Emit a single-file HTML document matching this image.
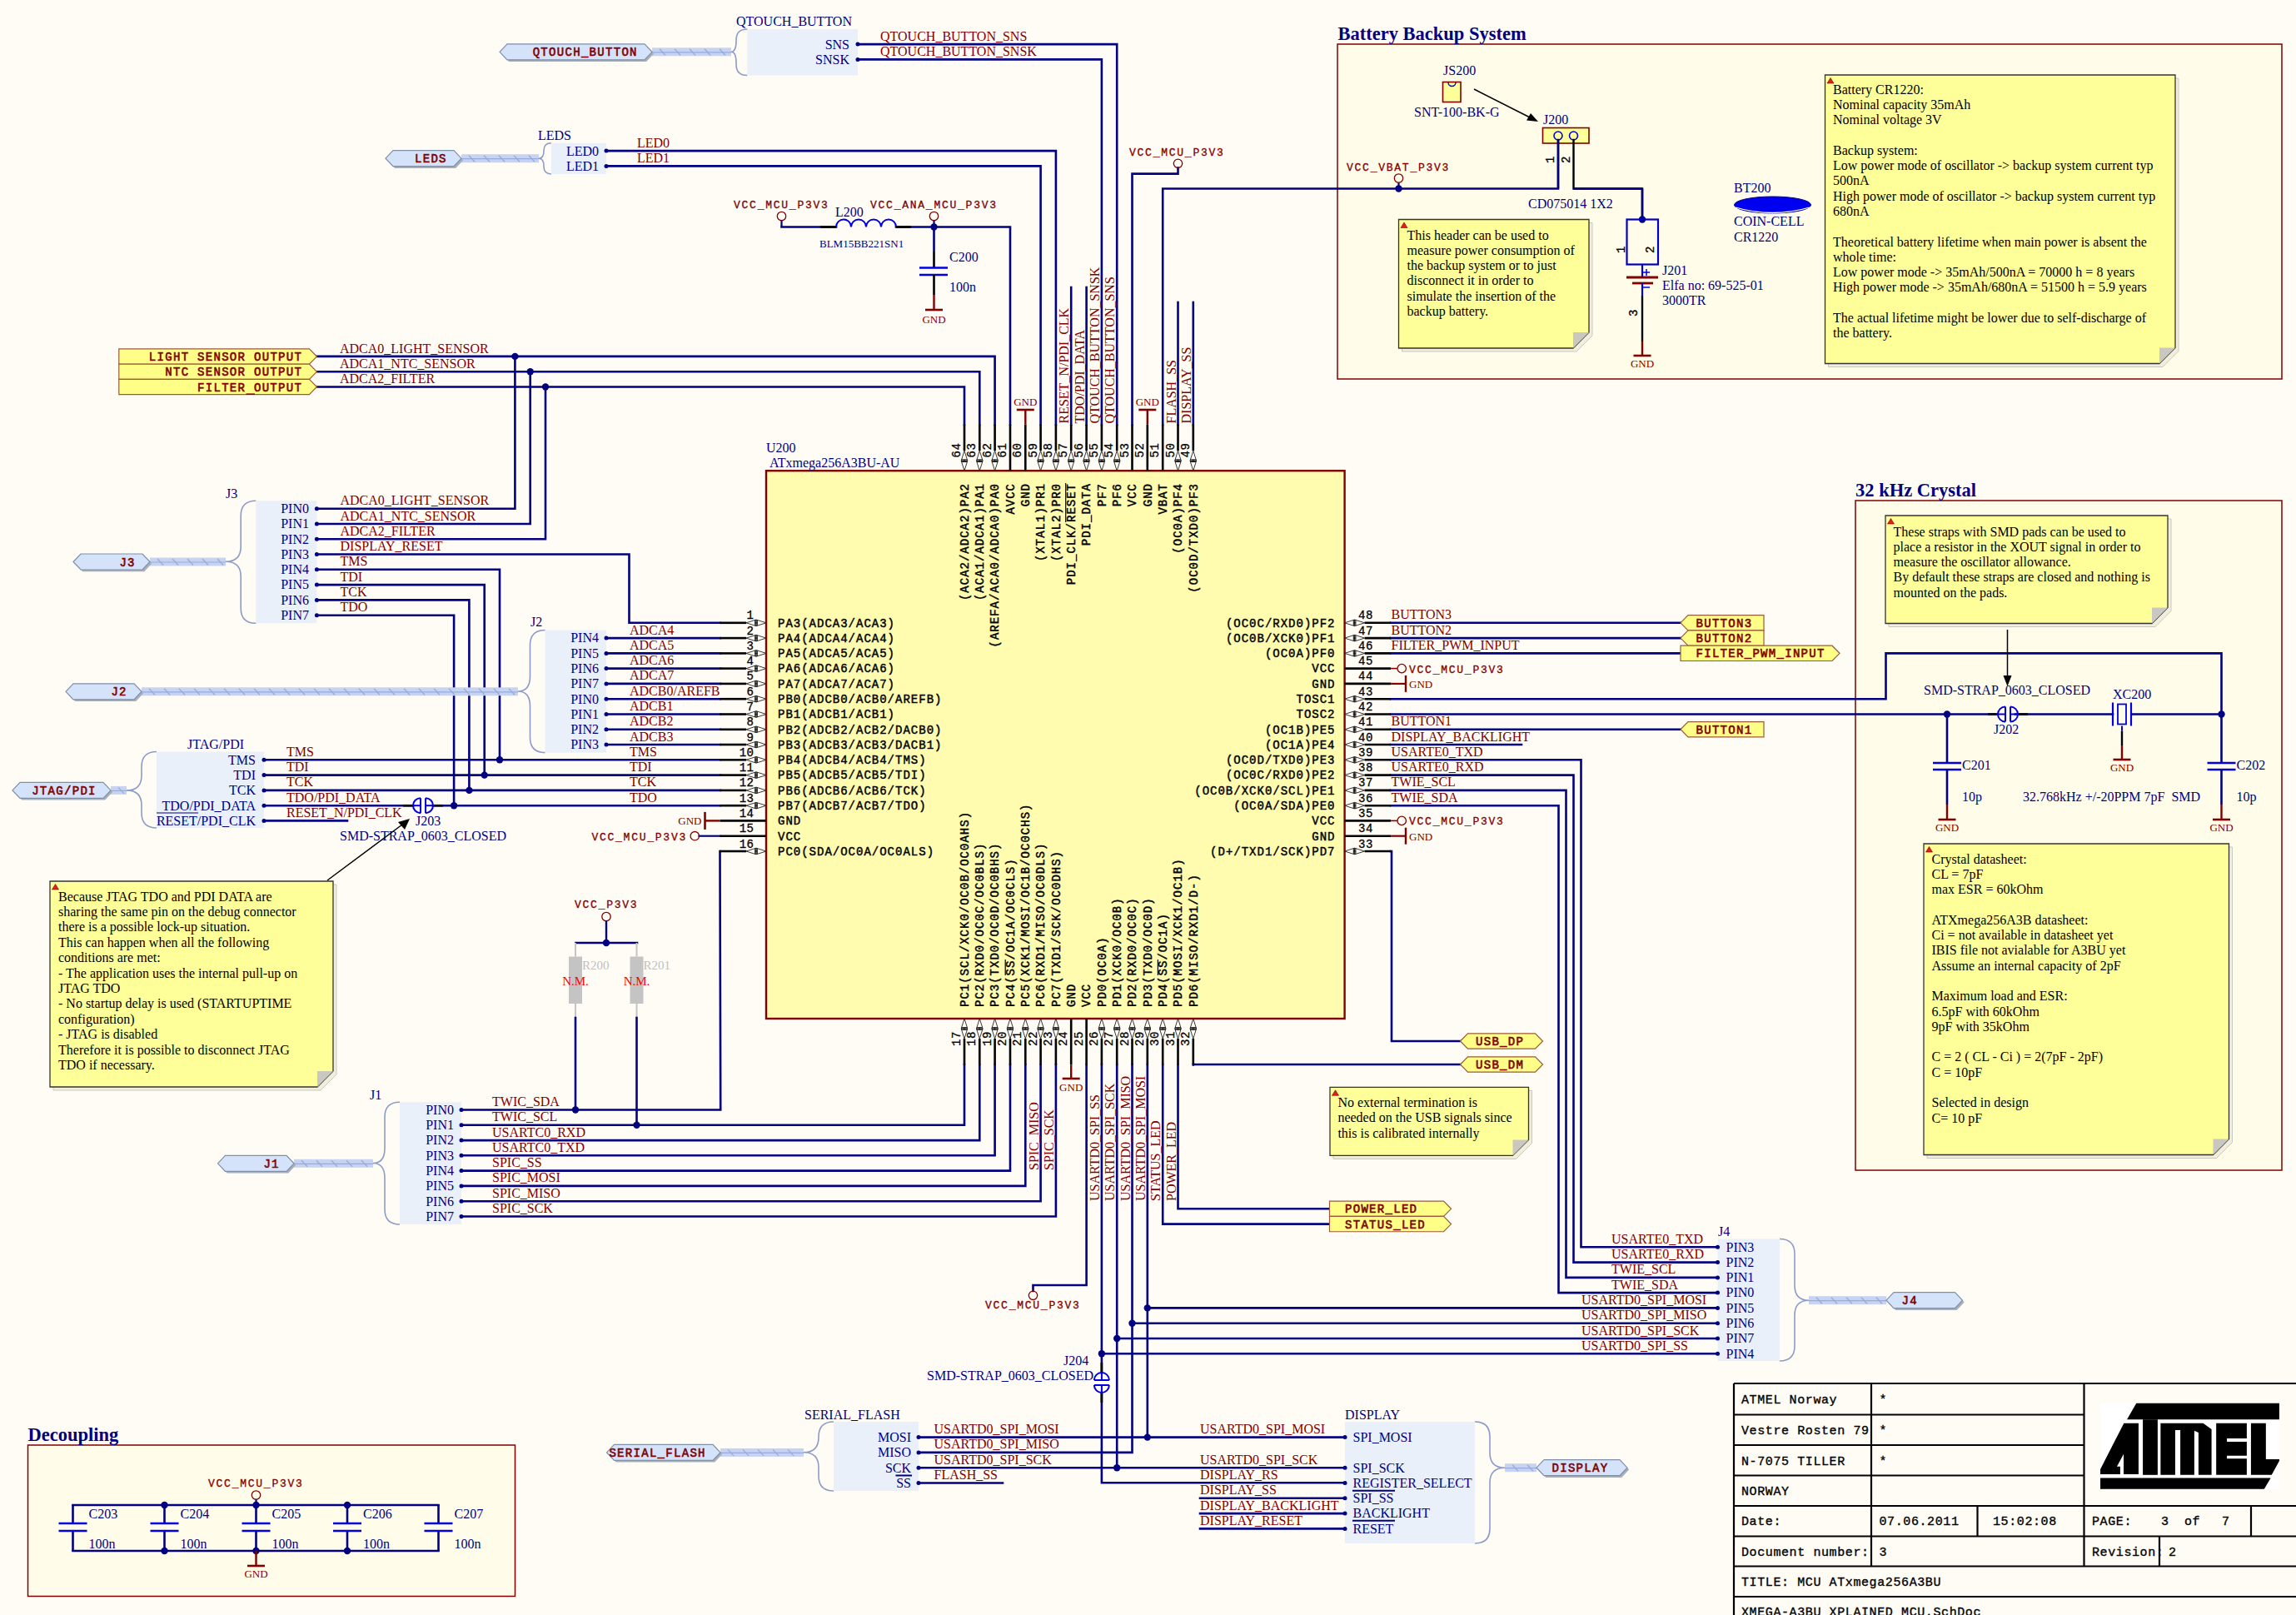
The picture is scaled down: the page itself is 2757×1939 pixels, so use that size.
<!DOCTYPE html><html><head><meta charset="utf-8"><style>
html,body{margin:0;padding:0;background:#FFFCF6;}
svg{display:block;}
text{font-family:"Liberation Serif",serif;}
.nl{font-size:16px;fill:#800000;}
.des{font-size:16px;fill:#000080;}
.dess{font-size:13px;fill:#000080;}
.pn{font-family:"Liberation Mono",monospace;font-size:14px;letter-spacing:1.0px;fill:#000;stroke:#000;stroke-width:0.45px;}
.num{font-family:"Liberation Mono",monospace;font-size:14px;letter-spacing:0.5px;fill:#000;stroke:#000;stroke-width:0.3px;}
.pwr{font-family:"Liberation Mono",monospace;font-size:13px;letter-spacing:1.75px;fill:#800000;stroke:#800000;stroke-width:0.3px;}
.gnd{font-size:13px;fill:#800000;}
.port{font-family:"Liberation Mono",monospace;font-size:14px;letter-spacing:1.3px;fill:#800000;stroke:#800000;stroke-width:0.6px;}
.note{font-size:16px;fill:#000;}
.title{font-size:22.5px;font-weight:bold;fill:#000080;}
.tb{font-family:"Liberation Mono",monospace;font-size:15px;letter-spacing:0.6px;fill:#000;stroke:#000;stroke-width:0.35px;}
.gray{font-size:15px;fill:#C0C0C0;}
.red{font-size:15px;fill:#FF0000;}
</style></head><body><svg width="2757" height="1939" viewBox="0 0 2757 1939">
<rect x="0" y="0" width="2757" height="1939" fill="#FFFCF6"/>
<rect x="1606" y="53" width="1134" height="402" fill="#FFFDE9" stroke="#800000" stroke-width="1.5"/>
<text x="1606.5" y="47.5" class="title">Battery Backup System</text>
<rect x="2228" y="601" width="512" height="804" fill="#FFFDE9" stroke="#800000" stroke-width="1.5"/>
<text x="2228.0" y="595.5" class="title">32 kHz Crystal</text>
<rect x="33.5" y="1735" width="585" height="181.5" fill="#FFFDE9" stroke="#800000" stroke-width="1.5"/>
<text x="33.5" y="1729.5" class="title">Decoupling</text>
<polyline points="1670.1,747.8 2018.0,747.8" fill="none" stroke="#000080" stroke-width="2.6" stroke-linejoin="miter" stroke-linecap="square"/>
<polyline points="1670.1,766.1 2018.0,766.1" fill="none" stroke="#000080" stroke-width="2.6" stroke-linejoin="miter" stroke-linecap="square"/>
<polyline points="1670.1,784.4 2018.0,784.4" fill="none" stroke="#000080" stroke-width="2.6" stroke-linejoin="miter" stroke-linecap="square"/>
<text x="1670.5" y="743.3" class="nl">BUTTON3</text>
<text x="1670.5" y="761.6" class="nl">BUTTON2</text>
<text x="1670.5" y="779.9" class="nl">FILTER_PWM_INPUT</text>
<polygon points="2018,747.8 2027,738.65 2118,738.65 2118,756.9499999999999 2027,756.9499999999999" fill="#FFFF88" stroke="#9A5A3A" stroke-width="1.2"/>
<text x="2036.5" y="752.8" class="port">BUTTON3</text>
<polygon points="2018,766.0799999999999 2027,756.93 2118,756.93 2118,775.2299999999999 2027,775.2299999999999" fill="#FFFF88" stroke="#9A5A3A" stroke-width="1.2"/>
<text x="2036.5" y="771.1" class="port">BUTTON2</text>
<polygon points="2018,775.2099999999999 2200,775.2099999999999 2209,784.3599999999999 2200,793.5099999999999 2018,793.5099999999999" fill="#FFFF88" stroke="#9A5A3A" stroke-width="1.2"/>
<text x="2036.5" y="789.4" class="port">FILTER_PWM_INPUT</text>
<line x1="1670.1" y1="802.6" x2="1678.0" y2="802.6" stroke="#800000" stroke-width="1.6" stroke-linecap="butt"/>
<circle cx="1683.2" cy="802.6" r="5.2" fill="none" stroke="#800000" stroke-width="1.3"/>
<text x="1692.0" y="807.6" class="pwr">VCC_MCU_P3V3</text>
<line x1="1670.1" y1="985.4" x2="1678.0" y2="985.4" stroke="#800000" stroke-width="1.6" stroke-linecap="butt"/>
<circle cx="1683.2" cy="985.4" r="5.2" fill="none" stroke="#800000" stroke-width="1.3"/>
<text x="1692.0" y="990.4" class="pwr">VCC_MCU_P3V3</text>
<line x1="1670.1" y1="820.9" x2="1688.0" y2="820.9" stroke="#800000" stroke-width="2.2" stroke-linecap="butt"/>
<line x1="1688.0" y1="810.9" x2="1688.0" y2="830.9" stroke="#800000" stroke-width="2.4" stroke-linecap="butt"/>
<text x="1692.0" y="825.9" class="gnd">GND</text>
<line x1="1670.1" y1="1003.7" x2="1688.0" y2="1003.7" stroke="#800000" stroke-width="2.2" stroke-linecap="butt"/>
<line x1="1688.0" y1="993.7" x2="1688.0" y2="1013.7" stroke="#800000" stroke-width="2.4" stroke-linecap="butt"/>
<text x="1692.0" y="1008.7" class="gnd">GND</text>
<polyline points="1670.1,839.2 2264.5,839.2 2264.5,784.4 2667.5,784.4 2667.5,857.5" fill="none" stroke="#000080" stroke-width="2.6" stroke-linejoin="miter" stroke-linecap="square"/>
<polyline points="1670.1,857.5 2396.0,857.5" fill="none" stroke="#000080" stroke-width="2.6" stroke-linejoin="miter" stroke-linecap="square"/>
<polyline points="2420.0,857.5 2537.0,857.5" fill="none" stroke="#000080" stroke-width="2.6" stroke-linejoin="miter" stroke-linecap="square"/>
<polyline points="2560.0,857.5 2667.5,857.5" fill="none" stroke="#000080" stroke-width="2.6" stroke-linejoin="miter" stroke-linecap="square"/>
<polyline points="1670.1,875.8 2018.0,875.8" fill="none" stroke="#000080" stroke-width="2.6" stroke-linejoin="miter" stroke-linecap="square"/>
<text x="1670.5" y="871.3" class="nl">BUTTON1</text>
<polygon points="2018,875.76 2027,866.61 2118,866.61 2118,884.91 2027,884.91" fill="#FFFF88" stroke="#9A5A3A" stroke-width="1.2"/>
<text x="2036.5" y="880.8" class="port">BUTTON1</text>
<polyline points="1670.1,894.0 1827.0,894.0" fill="none" stroke="#000080" stroke-width="2.6" stroke-linejoin="miter" stroke-linecap="square"/>
<text x="1670.5" y="889.5" class="nl">DISPLAY_BACKLIGHT</text>
<text x="1670.5" y="907.8" class="nl">USARTE0_TXD</text>
<text x="1670.5" y="926.1" class="nl">USARTE0_RXD</text>
<text x="1670.5" y="944.4" class="nl">TWIE_SCL</text>
<text x="1670.5" y="962.7" class="nl">TWIE_SDA</text>
<polyline points="1670.1,1022.0 1671.0,1022.0 1671.0,1250.0 1753.5,1250.0" fill="none" stroke="#000080" stroke-width="2.6" stroke-linejoin="miter" stroke-linecap="square"/>
<polygon points="1753.5,1250 1762.5,1240.85 1843.5,1240.85 1852.5,1250 1843.5,1259.15 1762.5,1259.15" fill="#FFFF88" stroke="#9A5A3A" stroke-width="1.2"/>
<text x="1772.0" y="1255.0" class="port">USB_DP</text>
<text x="1733.0" y="90.0" class="des">JS200</text>
<rect x="1732.5" y="98.5" width="21.5" height="24" fill="#FFFF99" stroke="#800000" stroke-width="1.6"/>
<path d="M1739,99 a4.5,4.5 0 0 0 9,0" fill="none" stroke="#0000E0" stroke-width="1.4"/>
<text x="1698.0" y="140.0" class="des">SNT-100-BK-G</text>
<line x1="1770.0" y1="107.0" x2="1840.0" y2="142.5" stroke="#000" stroke-width="1.5" stroke-linecap="butt"/>
<polygon points="1847,146 1833,144.5 1838,136" fill="#000"/>
<text x="1853.0" y="149.0" class="des">J200</text>
<rect x="1852.5" y="153.5" width="55.5" height="18.5" fill="#FFFF99" stroke="#800000" stroke-width="1.6"/>
<circle cx="1871" cy="163" r="5" fill="none" stroke="#0000E0" stroke-width="1.6"/>
<circle cx="1889.5" cy="163" r="5" fill="none" stroke="#0000E0" stroke-width="1.6"/>
<line x1="1871.0" y1="168.0" x2="1871.0" y2="226.5" stroke="#000" stroke-width="2.4" stroke-linecap="butt"/>
<polyline points="1889.5,168.0 1889.5,226.5 1972.0,226.5 1972.0,263.5" fill="none" stroke="#000" stroke-width="2.4" stroke-linejoin="miter" stroke-linecap="square"/>
<line x1="1889.5" y1="226.5" x2="1972.0" y2="226.5" stroke="#000080" stroke-width="2.6" stroke-linecap="butt"/>
<line x1="1972.0" y1="226.5" x2="1972.0" y2="263.5" stroke="#000080" stroke-width="2.6" stroke-linecap="butt"/>
<circle cx="1972.0" cy="263.5" r="4.2" fill="#000080"/>
<text x="1866.0" y="196.0" class="num" transform="rotate(-90 1866.0 196.0)">1</text>
<text x="1884.5" y="196.0" class="num" transform="rotate(-90 1884.5 196.0)">2</text>
<text x="1835.0" y="250.0" class="des">CD075014 1X2</text>
<rect x="1953.5" y="263.5" width="37.5" height="54" fill="none" stroke="#0000C0" stroke-width="2.2"/>
<text x="1951.0" y="304.0" class="num" transform="rotate(-90 1951.0 304.0)">1</text>
<text x="1985.5" y="304.0" class="num" transform="rotate(-90 1985.5 304.0)">2</text>
<line x1="1972.0" y1="317.5" x2="1972.0" y2="333.0" stroke="#0000E0" stroke-width="2.2" stroke-linecap="butt"/>
<line x1="1953.0" y1="333.0" x2="1991.0" y2="333.0" stroke="#800000" stroke-width="2.8" stroke-linecap="butt"/>
<line x1="1960.0" y1="340.0" x2="1985.0" y2="340.0" stroke="#800000" stroke-width="2.8" stroke-linecap="butt"/>
<path d="M1973,327 h8 M1977,323 v8 M1973,345 h8" stroke="#0000E0" stroke-width="1.5"/>
<line x1="1972.0" y1="340.0" x2="1972.0" y2="355.0" stroke="#0000E0" stroke-width="2.2" stroke-linecap="butt"/>
<line x1="1972.0" y1="355.0" x2="1972.0" y2="410.0" stroke="#000" stroke-width="2.4" stroke-linecap="butt"/>
<line x1="1972.0" y1="410.0" x2="1972.0" y2="427.0" stroke="#800000" stroke-width="2.4" stroke-linecap="butt"/>
<line x1="1961.5" y1="427.0" x2="1982.5" y2="427.0" stroke="#800000" stroke-width="2.6" stroke-linecap="butt"/>
<text x="1972.0" y="441.0" class="gnd" text-anchor="middle">GND</text>
<text x="1966.0" y="380.0" class="num" transform="rotate(-90 1966.0 380.0)">3</text>
<text x="1996.0" y="330.0" class="des">J201</text>
<text x="1996.0" y="348.0" class="des">Elfa no: 69-525-01</text>
<text x="1996.0" y="366.0" class="des">3000TR</text>
<text x="2082.0" y="231.0" class="des">BT200</text>
<ellipse cx="2128.5" cy="246" rx="46" ry="10" fill="#0000F0" stroke="#000080" stroke-width="1"/>
<path d="M2084,249 Q2128,262 2173,249" fill="none" stroke="#FFFFFF" stroke-width="1.3"/>
<text x="2082.0" y="271.0" class="des">COIN-CELL</text>
<text x="2082.0" y="290.0" class="des">CR1220</text>
<polygon points="1683.5,267.5 1912,267.5 1912,403 1893,422 1683.5,422" fill="#F1EEDC" stroke="#C8C8C0" stroke-width="1"/>
<polygon points="1679.5,263.5 1908,263.5 1908,399 1889,418 1679.5,418" fill="#FFFF99" stroke="#333" stroke-width="1.3"/>
<polygon points="1908,399 1889,399 1889,418" fill="#C9C8C0" stroke="none"/>
<polygon points="1682.0,273.5 1686.0,267.0 1690.0,273.5" fill="#E02020" stroke="#700" stroke-width="0.6"/>
<text x="1689.5" y="287.5" class="note">This header can be used to</text>
<text x="1689.5" y="305.8" class="note">measure power consumption of</text>
<text x="1689.5" y="324.1" class="note">the backup system or to just</text>
<text x="1689.5" y="342.4" class="note">disconnect it in order to</text>
<text x="1689.5" y="360.7" class="note">simulate the insertion of the</text>
<text x="1689.5" y="379.0" class="note">backup battery.</text>
<polygon points="2195.5,94 2616,94 2616,421.5 2597,440.5 2195.5,440.5" fill="#F1EEDC" stroke="#C8C8C0" stroke-width="1"/>
<polygon points="2191.5,90 2612,90 2612,417.5 2593,436.5 2191.5,436.5" fill="#FFFF99" stroke="#333" stroke-width="1.3"/>
<polygon points="2612,417.5 2593,417.5 2593,436.5" fill="#C9C8C0" stroke="none"/>
<polygon points="2194.0,100 2198.0,93.5 2202.0,100" fill="#E02020" stroke="#700" stroke-width="0.6"/>
<text x="2201.0" y="112.5" class="note">Battery CR1220:</text>
<text x="2201.0" y="130.8" class="note">Nominal capacity 35mAh</text>
<text x="2201.0" y="149.1" class="note">Nominal voltage 3V</text>
<text x="2201.0" y="185.7" class="note">Backup system:</text>
<text x="2201.0" y="204.0" class="note">Low power mode of oscillator -&gt; backup system current typ</text>
<text x="2201.0" y="222.3" class="note">500nA</text>
<text x="2201.0" y="240.6" class="note">High power mode of oscillator -&gt; backup system current typ</text>
<text x="2201.0" y="258.9" class="note">680nA</text>
<text x="2201.0" y="295.5" class="note">Theoretical battery lifetime when main power is absent the</text>
<text x="2201.0" y="313.8" class="note">whole time:</text>
<text x="2201.0" y="332.1" class="note">Low power mode -&gt; 35mAh/500nA = 70000 h = 8 years</text>
<text x="2201.0" y="350.4" class="note">High power mode -&gt; 35mAh/680nA = 51500 h = 5.9 years</text>
<text x="2201.0" y="387.0" class="note">The actual lifetime might be lower due to self-discharge of</text>
<text x="2201.0" y="405.3" class="note">the battery.</text>
<polygon points="2268,623 2607,623 2607,733.5 2588,752.5 2268,752.5" fill="#F1EEDC" stroke="#C8C8C0" stroke-width="1"/>
<polygon points="2264,619 2603,619 2603,729.5 2584,748.5 2264,748.5" fill="#FFFF99" stroke="#333" stroke-width="1.3"/>
<polygon points="2603,729.5 2584,729.5 2584,748.5" fill="#C9C8C0" stroke="none"/>
<polygon points="2266.5,629 2270.5,622.5 2274.5,629" fill="#E02020" stroke="#700" stroke-width="0.6"/>
<text x="2273.5" y="643.5" class="note">These straps with SMD pads can be used to</text>
<text x="2273.5" y="661.8" class="note">place a resistor in the XOUT signal in order to</text>
<text x="2273.5" y="680.1" class="note">measure the oscillator allowance.</text>
<text x="2273.5" y="698.4" class="note">By default these straps are closed and nothing is</text>
<text x="2273.5" y="716.7" class="note">mounted on the pads.</text>
<line x1="2410.5" y1="756.0" x2="2410.5" y2="815.0" stroke="#000" stroke-width="1.5" stroke-linecap="butt"/>
<polygon points="2410.5,824 2405.5,811 2415.5,811" fill="#000"/>
<text x="2310.0" y="834.0" class="des">SMD-STRAP_0603_CLOSED</text>
<line x1="2387.0" y1="857.5" x2="2399.0" y2="857.5" stroke="#000" stroke-width="2.6" stroke-linecap="butt"/>
<line x1="2423.0" y1="857.5" x2="2435.0" y2="857.5" stroke="#000" stroke-width="2.6" stroke-linecap="butt"/>
<path d="M2408,848.48 A9,9 0 0 0 2408,866.48 M2414,848.48 A9,9 0 0 1 2414,866.48" fill="none" stroke="#0000E0" stroke-width="2"/>
<line x1="2408.0" y1="848.5" x2="2408.0" y2="866.5" stroke="#0000E0" stroke-width="2" stroke-linecap="butt"/>
<line x1="2414.0" y1="848.5" x2="2414.0" y2="866.5" stroke="#0000E0" stroke-width="2" stroke-linecap="butt"/>
<line x1="2399.0" y1="857.5" x2="2408.0" y2="857.5" stroke="#0000E0" stroke-width="2" stroke-linecap="butt"/>
<line x1="2414.0" y1="857.5" x2="2423.0" y2="857.5" stroke="#0000E0" stroke-width="2" stroke-linecap="butt"/>
<text x="2394.0" y="881.0" class="des">J202</text>
<rect x="2543" y="845.48" width="10" height="24" fill="none" stroke="#0000E0" stroke-width="1.8"/>
<line x1="2537.0" y1="843.5" x2="2537.0" y2="871.5" stroke="#0000E0" stroke-width="2.2" stroke-linecap="butt"/>
<line x1="2559.0" y1="843.5" x2="2559.0" y2="871.5" stroke="#0000E0" stroke-width="2.2" stroke-linecap="butt"/>
<line x1="2548.0" y1="871.5" x2="2548.0" y2="877.5" stroke="#0000E0" stroke-width="2" stroke-linecap="butt"/>
<line x1="2548.0" y1="877.5" x2="2548.0" y2="895.0" stroke="#000" stroke-width="2.4" stroke-linecap="butt"/>
<line x1="2548.0" y1="895.0" x2="2548.0" y2="912.0" stroke="#800000" stroke-width="2.4" stroke-linecap="butt"/>
<line x1="2537.5" y1="912.0" x2="2558.5" y2="912.0" stroke="#800000" stroke-width="2.6" stroke-linecap="butt"/>
<text x="2548.0" y="926.0" class="gnd" text-anchor="middle">GND</text>
<text x="2537.0" y="838.5" class="des">XC200</text>
<circle cx="2338.0" cy="857.5" r="4.2" fill="#000080"/>
<line x1="2338.0" y1="857.5" x2="2338.0" y2="916.0" stroke="#000080" stroke-width="2.6" stroke-linecap="butt"/>
<line x1="2321.0" y1="916.0" x2="2355.0" y2="916.0" stroke="#0000E0" stroke-width="2.6" stroke-linecap="butt"/>
<line x1="2321.0" y1="924.0" x2="2355.0" y2="924.0" stroke="#0000E0" stroke-width="2.6" stroke-linecap="butt"/>
<line x1="2338.0" y1="924.0" x2="2338.0" y2="966.0" stroke="#000080" stroke-width="2.6" stroke-linecap="butt"/>
<line x1="2338.0" y1="966.0" x2="2338.0" y2="984.0" stroke="#800000" stroke-width="2.4" stroke-linecap="butt"/>
<line x1="2327.5" y1="984.0" x2="2348.5" y2="984.0" stroke="#800000" stroke-width="2.6" stroke-linecap="butt"/>
<text x="2338.0" y="998.0" class="gnd" text-anchor="middle">GND</text>
<text x="2356.0" y="924.0" class="des">C201</text>
<text x="2356.0" y="961.5" class="des">10p</text>
<circle cx="2667.5" cy="857.5" r="4.2" fill="#000080"/>
<line x1="2667.5" y1="857.5" x2="2667.5" y2="916.0" stroke="#000080" stroke-width="2.6" stroke-linecap="butt"/>
<line x1="2650.5" y1="916.0" x2="2684.5" y2="916.0" stroke="#0000E0" stroke-width="2.6" stroke-linecap="butt"/>
<line x1="2650.5" y1="924.0" x2="2684.5" y2="924.0" stroke="#0000E0" stroke-width="2.6" stroke-linecap="butt"/>
<line x1="2667.5" y1="924.0" x2="2667.5" y2="966.0" stroke="#000080" stroke-width="2.6" stroke-linecap="butt"/>
<line x1="2667.5" y1="966.0" x2="2667.5" y2="984.0" stroke="#800000" stroke-width="2.4" stroke-linecap="butt"/>
<line x1="2657.0" y1="984.0" x2="2678.0" y2="984.0" stroke="#800000" stroke-width="2.6" stroke-linecap="butt"/>
<text x="2667.5" y="998.0" class="gnd" text-anchor="middle">GND</text>
<text x="2685.5" y="924.0" class="des">C202</text>
<text x="2685.5" y="961.5" class="des">10p</text>
<text x="2429.0" y="962.0" class="des">32.768kHz +/-20PPM 7pF  SMD</text>
<polygon points="2314,1017 2680.5,1017 2680.5,1371.5 2661.5,1390.5 2314,1390.5" fill="#F1EEDC" stroke="#C8C8C0" stroke-width="1"/>
<polygon points="2310,1013 2676.5,1013 2676.5,1367.5 2657.5,1386.5 2310,1386.5" fill="#FFFF99" stroke="#333" stroke-width="1.3"/>
<polygon points="2676.5,1367.5 2657.5,1367.5 2657.5,1386.5" fill="#C9C8C0" stroke="none"/>
<polygon points="2312.5,1023 2316.5,1016.5 2320.5,1023" fill="#E02020" stroke="#700" stroke-width="0.6"/>
<text x="2319.5" y="1036.5" class="note">Crystal datasheet:</text>
<text x="2319.5" y="1054.8" class="note">CL = 7pF</text>
<text x="2319.5" y="1073.1" class="note">max ESR = 60kOhm</text>
<text x="2319.5" y="1109.7" class="note">ATXmega256A3B datasheet:</text>
<text x="2319.5" y="1128.0" class="note">Ci = not available in datasheet yet</text>
<text x="2319.5" y="1146.3" class="note">IBIS file not avialable for A3BU yet</text>
<text x="2319.5" y="1164.6" class="note">Assume an internal capacity of 2pF</text>
<text x="2319.5" y="1201.2" class="note">Maximum load and ESR:</text>
<text x="2319.5" y="1219.5" class="note">6.5pF with 60kOhm</text>
<text x="2319.5" y="1237.8" class="note">9pF with 35kOhm</text>
<text x="2319.5" y="1274.4" class="note">C = 2 ( CL - Ci ) = 2(7pF - 2pF)</text>
<text x="2319.5" y="1292.7" class="note">C = 10pF</text>
<text x="2319.5" y="1329.3" class="note">Selected in design</text>
<text x="2319.5" y="1347.6" class="note">C= 10 pF</text>
<rect x="897.2" y="35.0" width="132.8" height="55.5" fill="#EAF0F9"/>
<path d="M897.2,35.0 Q884.0,35.0 884.0,48.2 L884.0,49.1 Q884.0,62.3 878.0,62.3 Q884.0,62.3 884.0,75.5 L884.0,77.3 Q884.0,90.5 897.2,90.5" fill="none" stroke="#8C9CC8" stroke-width="1.6"/>
<rect x="783.0" y="57.3" width="95.0" height="10" fill="#C6D3F3" stroke="none"/>
<line x1="783.0" y1="62.8" x2="878.0" y2="62.8" stroke="#9AABD8" stroke-width="1.2" stroke-linecap="butt"/>
<line x1="792.0" y1="58.8" x2="799.0" y2="66.3" stroke="#9AABD8" stroke-width="1.3"/>
<line x1="810.0" y1="58.8" x2="817.0" y2="66.3" stroke="#9AABD8" stroke-width="1.3"/>
<line x1="828.0" y1="58.8" x2="835.0" y2="66.3" stroke="#9AABD8" stroke-width="1.3"/>
<line x1="846.0" y1="58.8" x2="853.0" y2="66.3" stroke="#9AABD8" stroke-width="1.3"/>
<line x1="864.0" y1="58.8" x2="871.0" y2="66.3" stroke="#9AABD8" stroke-width="1.3"/>
<g transform="translate(2.2,2.2)"><polygon points="600,62.3 609,52.8 774,52.8 783,62.3 774,71.8 609,71.8" fill="#A8B0BC" stroke="none"/></g>
<polygon points="600,62.3 609,52.8 774,52.8 783,62.3 774,71.8 609,71.8" fill="#D5E3FA" stroke="#7F8FA8" stroke-width="1.2"/>
<text x="765.8" y="67.3" class="port" text-anchor="end">QTOUCH_BUTTON</text>
<text x="884.0" y="30.5" class="des">QTOUCH_BUTTON</text>
<text x="1020.0" y="58.5" class="des" text-anchor="end">SNS</text>
<text x="1020.0" y="76.8" class="des" text-anchor="end">SNSK</text>
<polyline points="1030.0,53.1 1341.2,53.1 1341.2,509.7" fill="none" stroke="#000080" stroke-width="2.6" stroke-linejoin="miter" stroke-linecap="square"/>
<polyline points="1030.0,71.4 1322.9,71.4 1322.9,509.7" fill="none" stroke="#000080" stroke-width="2.6" stroke-linejoin="miter" stroke-linecap="square"/>
<circle cx="1030.0" cy="53.1" r="2.5" fill="#000080"/>
<circle cx="1030.0" cy="71.4" r="2.5" fill="#000080"/>
<text x="1057.0" y="48.5" class="nl">QTOUCH_BUTTON_SNS</text>
<text x="1057.0" y="66.8" class="nl">QTOUCH_BUTTON_SNSK</text>
<rect x="661.9" y="171.8" width="66.1" height="37.2" fill="#EAF0F9"/>
<path d="M661.9,171.8 Q653.0,171.8 653.0,180.7 L653.0,181.3 Q653.0,190.2 647.0,190.2 Q653.0,190.2 653.0,199.1 L653.0,200.1 Q653.0,209.0 661.9,209.0" fill="none" stroke="#8C9CC8" stroke-width="1.6"/>
<rect x="554.0" y="185.2" width="93.0" height="10" fill="#C6D3F3" stroke="none"/>
<line x1="554.0" y1="190.7" x2="647.0" y2="190.7" stroke="#9AABD8" stroke-width="1.2" stroke-linecap="butt"/>
<line x1="563.0" y1="186.7" x2="570.0" y2="194.2" stroke="#9AABD8" stroke-width="1.3"/>
<line x1="581.0" y1="186.7" x2="588.0" y2="194.2" stroke="#9AABD8" stroke-width="1.3"/>
<line x1="599.0" y1="186.7" x2="606.0" y2="194.2" stroke="#9AABD8" stroke-width="1.3"/>
<line x1="617.0" y1="186.7" x2="624.0" y2="194.2" stroke="#9AABD8" stroke-width="1.3"/>
<line x1="635.0" y1="186.7" x2="642.0" y2="194.2" stroke="#9AABD8" stroke-width="1.3"/>
<g transform="translate(2.2,2.2)"><polygon points="463,190.2 472,180.7 545,180.7 554,190.2 545,199.7 472,199.7" fill="#A8B0BC" stroke="none"/></g>
<polygon points="463,190.2 472,180.7 545,180.7 554,190.2 545,199.7 472,199.7" fill="#D5E3FA" stroke="#7F8FA8" stroke-width="1.2"/>
<text x="536.8" y="195.2" class="port" text-anchor="end">LEDS</text>
<text x="646.0" y="167.5" class="des">LEDS</text>
<text x="719.0" y="186.5" class="des" text-anchor="end">LED0</text>
<text x="719.0" y="204.8" class="des" text-anchor="end">LED1</text>
<polyline points="728.0,181.1 1267.9,181.1 1267.9,509.7" fill="none" stroke="#000080" stroke-width="2.6" stroke-linejoin="miter" stroke-linecap="square"/>
<polyline points="728.0,199.4 1249.6,199.4 1249.6,509.7" fill="none" stroke="#000080" stroke-width="2.6" stroke-linejoin="miter" stroke-linecap="square"/>
<circle cx="728.0" cy="181.1" r="2.5" fill="#000080"/>
<circle cx="728.0" cy="199.4" r="2.5" fill="#000080"/>
<text x="765.0" y="176.5" class="nl">LED0</text>
<text x="765.0" y="194.8" class="nl">LED1</text>
<text x="881.0" y="250.0" class="pwr">VCC_MCU_P3V3</text>
<circle cx="938.5" cy="259.5" r="5.2" fill="none" stroke="#800000" stroke-width="1.3"/>
<line x1="938.5" y1="264.7" x2="938.5" y2="272.5" stroke="#000080" stroke-width="2.2" stroke-linecap="butt"/>
<polyline points="938.5,272.5 1004.0,272.5" fill="none" stroke="#000080" stroke-width="2.6" stroke-linejoin="miter" stroke-linecap="square"/>
<path d="M1004,272.5 a9,9 0 0 1 18,0 a9,9 0 0 1 18,0 a9,9 0 0 1 18,0 a9,9 0 0 1 18,0" fill="none" stroke="#0000E0" stroke-width="2"/>
<polyline points="1076.0,272.5 1213.0,272.5 1213.0,509.7" fill="none" stroke="#000080" stroke-width="2.6" stroke-linejoin="miter" stroke-linecap="square"/>
<circle cx="1121.5" cy="272.5" r="4.2" fill="#000080"/>
<text x="1003.0" y="260.0" class="des">L200</text>
<text x="984.0" y="297.0" class="dess">BLM15BB221SN1</text>
<text x="1045.0" y="250.0" class="pwr">VCC_ANA_MCU_P3V3</text>
<circle cx="1121.5" cy="259.5" r="5.2" fill="none" stroke="#800000" stroke-width="1.3"/>
<line x1="1121.5" y1="264.7" x2="1121.5" y2="272.5" stroke="#000080" stroke-width="2.2" stroke-linecap="butt"/>
<line x1="1121.5" y1="272.5" x2="1121.5" y2="302.0" stroke="#000080" stroke-width="2.6" stroke-linecap="butt"/>
<line x1="1121.5" y1="302.0" x2="1121.5" y2="321.5" stroke="#000" stroke-width="2.6" stroke-linecap="butt"/>
<line x1="985.0" y1="272.5" x2="1004.0" y2="272.5" stroke="#000" stroke-width="2.6" stroke-linecap="butt"/>
<line x1="1076.0" y1="272.5" x2="1094.0" y2="272.5" stroke="#000" stroke-width="2.6" stroke-linecap="butt"/>
<line x1="1104.0" y1="321.5" x2="1138.0" y2="321.5" stroke="#0000E0" stroke-width="2.6" stroke-linecap="butt"/>
<line x1="1104.0" y1="330.0" x2="1138.0" y2="330.0" stroke="#0000E0" stroke-width="2.6" stroke-linecap="butt"/>
<line x1="1121.5" y1="330.0" x2="1121.5" y2="354.0" stroke="#000" stroke-width="2.6" stroke-linecap="butt"/>
<line x1="1121.5" y1="354.0" x2="1121.5" y2="372.0" stroke="#800000" stroke-width="2.4" stroke-linecap="butt"/>
<line x1="1111.0" y1="372.0" x2="1132.0" y2="372.0" stroke="#800000" stroke-width="2.6" stroke-linecap="butt"/>
<text x="1121.5" y="388.0" class="gnd" text-anchor="middle">GND</text>
<text x="1140.0" y="314.0" class="des">C200</text>
<text x="1140.0" y="350.0" class="des">100n</text>
<polyline points="380.4,427.9 1194.6,427.9 1194.6,509.7" fill="none" stroke="#000080" stroke-width="2.6" stroke-linejoin="miter" stroke-linecap="square"/>
<text x="408.0" y="423.6" class="nl">ADCA0_LIGHT_SENSOR</text>
<polyline points="380.4,446.2 1176.3,446.2 1176.3,509.7" fill="none" stroke="#000080" stroke-width="2.6" stroke-linejoin="miter" stroke-linecap="square"/>
<text x="408.0" y="441.9" class="nl">ADCA1_NTC_SENSOR</text>
<polyline points="380.4,464.5 1158.0,464.5 1158.0,509.7" fill="none" stroke="#000080" stroke-width="2.6" stroke-linejoin="miter" stroke-linecap="square"/>
<text x="408.0" y="460.2" class="nl">ADCA2_FILTER</text>
<polygon points="142.8,418.95000000000005 371.4,418.95000000000005 380.4,428.1 371.4,437.25 142.8,437.25" fill="#FFFF88" stroke="#9A5A3A" stroke-width="1.2"/>
<text x="363.2" y="433.1" class="port" text-anchor="end">LIGHT SENSOR OUTPUT</text>
<polygon points="142.8,437.15000000000003 371.4,437.15000000000003 380.4,446.3 371.4,455.45 142.8,455.45" fill="#FFFF88" stroke="#9A5A3A" stroke-width="1.2"/>
<text x="363.2" y="451.3" class="port" text-anchor="end">NTC SENSOR OUTPUT</text>
<polygon points="142.8,455.35 371.4,455.35 380.4,464.5 371.4,473.65 142.8,473.65" fill="#FFFF88" stroke="#9A5A3A" stroke-width="1.2"/>
<text x="363.2" y="469.5" class="port" text-anchor="end">FILTER OUTPUT</text>
<line x1="295.5" y1="473.2" x2="306.0" y2="473.2" stroke="#800000" stroke-width="1.6" stroke-linecap="butt"/>
<line x1="1231.3" y1="492.0" x2="1231.3" y2="509.7" stroke="#800000" stroke-width="2.4" stroke-linecap="butt"/>
<line x1="1220.8" y1="492.0" x2="1241.8" y2="492.0" stroke="#800000" stroke-width="2.6" stroke-linecap="butt"/>
<text x="1231.3" y="487.0" class="gnd" text-anchor="middle">GND</text>
<line x1="1377.8" y1="492.0" x2="1377.8" y2="509.7" stroke="#800000" stroke-width="2.4" stroke-linecap="butt"/>
<line x1="1367.3" y1="492.0" x2="1388.3" y2="492.0" stroke="#800000" stroke-width="2.6" stroke-linecap="butt"/>
<text x="1377.8" y="487.0" class="gnd" text-anchor="middle">GND</text>
<polyline points="1359.5,509.7 1359.5,208.6 1414.5,208.6 1414.5,201.5" fill="none" stroke="#000080" stroke-width="2.6" stroke-linejoin="miter" stroke-linecap="square"/>
<circle cx="1414.5" cy="196.3" r="5.2" fill="none" stroke="#800000" stroke-width="1.3"/>
<text x="1356.0" y="187.0" class="pwr">VCC_MCU_P3V3</text>
<polyline points="1396.2,509.7 1396.2,226.5 1871.0,226.5 1871.0,168.0" fill="none" stroke="#000080" stroke-width="2.6" stroke-linejoin="miter" stroke-linecap="square"/>
<circle cx="1679.5" cy="226.5" r="4.2" fill="#000080"/>
<line x1="1679.5" y1="219.3" x2="1679.5" y2="226.5" stroke="#000080" stroke-width="2.2" stroke-linecap="butt"/>
<circle cx="1679.5" cy="214.0" r="5.2" fill="none" stroke="#800000" stroke-width="1.3"/>
<text x="1617.0" y="205.0" class="pwr">VCC_VBAT_P3V3</text>
<text x="1283.2" y="508.5" class="nl" transform="rotate(-90 1283.2 508.5)">RESET_N/PDI_CLK</text>
<text x="1301.6" y="508.5" class="nl" transform="rotate(-90 1301.6 508.5)">TDO/PDI_DATA</text>
<text x="1319.9" y="508.5" class="nl" transform="rotate(-90 1319.9 508.5)">QTOUCH_BUTTON_SNSK</text>
<text x="1338.2" y="508.5" class="nl" transform="rotate(-90 1338.2 508.5)">QTOUCH_BUTTON_SNS</text>
<text x="1411.5" y="508.5" class="nl" transform="rotate(-90 1411.5 508.5)">FLASH_SS</text>
<text x="1429.8" y="508.5" class="nl" transform="rotate(-90 1429.8 508.5)">DISPLAY_SS</text>
<polyline points="1286.2,509.7 1286.2,345.0" fill="none" stroke="#000080" stroke-width="2.6" stroke-linejoin="miter" stroke-linecap="square"/>
<polyline points="1304.6,509.7 1304.6,345.0" fill="none" stroke="#000080" stroke-width="2.6" stroke-linejoin="miter" stroke-linecap="square"/>
<polyline points="1414.5,509.7 1414.5,363.0" fill="none" stroke="#000080" stroke-width="2.6" stroke-linejoin="miter" stroke-linecap="square"/>
<polyline points="1432.8,509.7 1432.8,363.0" fill="none" stroke="#000080" stroke-width="2.6" stroke-linejoin="miter" stroke-linecap="square"/>
<rect x="307.2" y="601.2" width="73.2" height="147.1" fill="#EAF0F9"/>
<path d="M307.2,601.2 Q289.2,601.2 289.2,619.2 L289.2,656.2 Q289.2,674.2 271.0,674.2 Q289.2,674.2 289.2,692.2 L289.2,730.3 Q289.2,748.3 307.2,748.3" fill="none" stroke="#8C9CC8" stroke-width="1.6"/>
<rect x="180.0" y="669.5" width="91.0" height="10" fill="#C6D3F3" stroke="none"/>
<line x1="180.0" y1="675.0" x2="271.0" y2="675.0" stroke="#9AABD8" stroke-width="1.2" stroke-linecap="butt"/>
<line x1="189.0" y1="671.0" x2="196.0" y2="678.5" stroke="#9AABD8" stroke-width="1.3"/>
<line x1="207.0" y1="671.0" x2="214.0" y2="678.5" stroke="#9AABD8" stroke-width="1.3"/>
<line x1="225.0" y1="671.0" x2="232.0" y2="678.5" stroke="#9AABD8" stroke-width="1.3"/>
<line x1="243.0" y1="671.0" x2="250.0" y2="678.5" stroke="#9AABD8" stroke-width="1.3"/>
<line x1="261.0" y1="671.0" x2="268.0" y2="678.5" stroke="#9AABD8" stroke-width="1.3"/>
<g transform="translate(2.2,2.2)"><polygon points="88,674.5 97,665.0 171,665.0 180,674.5 171,684.0 97,684.0" fill="#A8B0BC" stroke="none"/></g>
<polygon points="88,674.5 97,665.0 171,665.0 180,674.5 171,684.0 97,684.0" fill="#D5E3FA" stroke="#7F8FA8" stroke-width="1.2"/>
<text x="162.8" y="679.5" class="port" text-anchor="end">J3</text>
<text x="271.0" y="597.8" class="des">J3</text>
<text x="371.0" y="616.0" class="des" text-anchor="end">PIN0</text>
<text x="408.5" y="606.2" class="nl">ADCA0_LIGHT_SENSOR</text>
<text x="371.0" y="634.3" class="des" text-anchor="end">PIN1</text>
<text x="408.5" y="624.5" class="nl">ADCA1_NTC_SENSOR</text>
<text x="371.0" y="652.6" class="des" text-anchor="end">PIN2</text>
<text x="408.5" y="642.8" class="nl">ADCA2_FILTER</text>
<text x="371.0" y="670.8" class="des" text-anchor="end">PIN3</text>
<text x="408.5" y="661.0" class="nl">DISPLAY_RESET</text>
<text x="371.0" y="689.1" class="des" text-anchor="end">PIN4</text>
<text x="408.5" y="679.3" class="nl">TMS</text>
<text x="371.0" y="707.4" class="des" text-anchor="end">PIN5</text>
<text x="408.5" y="697.6" class="nl">TDI</text>
<text x="371.0" y="725.7" class="des" text-anchor="end">PIN6</text>
<text x="408.5" y="715.9" class="nl">TCK</text>
<text x="371.0" y="744.0" class="des" text-anchor="end">PIN7</text>
<text x="408.5" y="734.2" class="nl">TDO</text>
<polyline points="380.4,610.7 618.4,610.7 618.4,427.9" fill="none" stroke="#000080" stroke-width="2.6" stroke-linejoin="miter" stroke-linecap="square"/>
<circle cx="618.4" cy="427.9" r="4.2" fill="#000080"/>
<polyline points="380.4,629.0 636.7,629.0 636.7,446.2" fill="none" stroke="#000080" stroke-width="2.6" stroke-linejoin="miter" stroke-linecap="square"/>
<circle cx="636.7" cy="446.2" r="4.2" fill="#000080"/>
<polyline points="380.4,647.3 655.0,647.3 655.0,464.5" fill="none" stroke="#000080" stroke-width="2.6" stroke-linejoin="miter" stroke-linecap="square"/>
<circle cx="655.0" cy="464.5" r="4.2" fill="#000080"/>
<polyline points="380.4,665.5 755.5,665.5 755.5,747.8 864.5,747.8" fill="none" stroke="#000080" stroke-width="2.6" stroke-linejoin="miter" stroke-linecap="square"/>
<polyline points="380.4,683.8 600.0,683.8 600.0,912.3" fill="none" stroke="#000080" stroke-width="2.6" stroke-linejoin="miter" stroke-linecap="square"/>
<circle cx="600.0" cy="912.3" r="4.2" fill="#000080"/>
<polyline points="380.4,702.1 581.7,702.1 581.7,930.6" fill="none" stroke="#000080" stroke-width="2.6" stroke-linejoin="miter" stroke-linecap="square"/>
<circle cx="581.7" cy="930.6" r="4.2" fill="#000080"/>
<polyline points="380.4,720.4 563.4,720.4 563.4,948.9" fill="none" stroke="#000080" stroke-width="2.6" stroke-linejoin="miter" stroke-linecap="square"/>
<circle cx="563.4" cy="948.9" r="4.2" fill="#000080"/>
<polyline points="380.4,738.7 545.1,738.7 545.1,967.2" fill="none" stroke="#000080" stroke-width="2.6" stroke-linejoin="miter" stroke-linecap="square"/>
<circle cx="545.1" cy="967.2" r="4.2" fill="#000080"/>
<circle cx="380.4" cy="610.7" r="2.5" fill="#000080"/>
<circle cx="380.4" cy="629.0" r="2.5" fill="#000080"/>
<circle cx="380.4" cy="647.3" r="2.5" fill="#000080"/>
<circle cx="380.4" cy="665.5" r="2.5" fill="#000080"/>
<circle cx="380.4" cy="683.8" r="2.5" fill="#000080"/>
<circle cx="380.4" cy="702.1" r="2.5" fill="#000080"/>
<circle cx="380.4" cy="720.4" r="2.5" fill="#000080"/>
<circle cx="380.4" cy="738.7" r="2.5" fill="#000080"/>
<rect x="654.5" y="756.5" width="73.5" height="147.1" fill="#EAF0F9"/>
<path d="M654.5,756.5 Q636.5,756.5 636.5,774.5 L636.5,812.0 Q636.5,830.0 622.0,830.0 Q636.5,830.0 636.5,848.0 L636.5,885.6 Q636.5,903.6 654.5,903.6" fill="none" stroke="#8C9CC8" stroke-width="1.6"/>
<rect x="170.0" y="825.3" width="452.0" height="10" fill="#C6D3F3" stroke="none"/>
<line x1="170.0" y1="830.8" x2="622.0" y2="830.8" stroke="#9AABD8" stroke-width="1.2" stroke-linecap="butt"/>
<line x1="179.0" y1="826.8" x2="186.0" y2="834.3" stroke="#9AABD8" stroke-width="1.3"/>
<line x1="197.0" y1="826.8" x2="204.0" y2="834.3" stroke="#9AABD8" stroke-width="1.3"/>
<line x1="215.0" y1="826.8" x2="222.0" y2="834.3" stroke="#9AABD8" stroke-width="1.3"/>
<line x1="233.0" y1="826.8" x2="240.0" y2="834.3" stroke="#9AABD8" stroke-width="1.3"/>
<line x1="251.0" y1="826.8" x2="258.0" y2="834.3" stroke="#9AABD8" stroke-width="1.3"/>
<line x1="269.0" y1="826.8" x2="276.0" y2="834.3" stroke="#9AABD8" stroke-width="1.3"/>
<line x1="287.0" y1="826.8" x2="294.0" y2="834.3" stroke="#9AABD8" stroke-width="1.3"/>
<line x1="305.0" y1="826.8" x2="312.0" y2="834.3" stroke="#9AABD8" stroke-width="1.3"/>
<line x1="323.0" y1="826.8" x2="330.0" y2="834.3" stroke="#9AABD8" stroke-width="1.3"/>
<line x1="341.0" y1="826.8" x2="348.0" y2="834.3" stroke="#9AABD8" stroke-width="1.3"/>
<line x1="359.0" y1="826.8" x2="366.0" y2="834.3" stroke="#9AABD8" stroke-width="1.3"/>
<line x1="377.0" y1="826.8" x2="384.0" y2="834.3" stroke="#9AABD8" stroke-width="1.3"/>
<line x1="395.0" y1="826.8" x2="402.0" y2="834.3" stroke="#9AABD8" stroke-width="1.3"/>
<line x1="413.0" y1="826.8" x2="420.0" y2="834.3" stroke="#9AABD8" stroke-width="1.3"/>
<line x1="431.0" y1="826.8" x2="438.0" y2="834.3" stroke="#9AABD8" stroke-width="1.3"/>
<line x1="449.0" y1="826.8" x2="456.0" y2="834.3" stroke="#9AABD8" stroke-width="1.3"/>
<line x1="467.0" y1="826.8" x2="474.0" y2="834.3" stroke="#9AABD8" stroke-width="1.3"/>
<line x1="485.0" y1="826.8" x2="492.0" y2="834.3" stroke="#9AABD8" stroke-width="1.3"/>
<line x1="503.0" y1="826.8" x2="510.0" y2="834.3" stroke="#9AABD8" stroke-width="1.3"/>
<line x1="521.0" y1="826.8" x2="528.0" y2="834.3" stroke="#9AABD8" stroke-width="1.3"/>
<line x1="539.0" y1="826.8" x2="546.0" y2="834.3" stroke="#9AABD8" stroke-width="1.3"/>
<line x1="557.0" y1="826.8" x2="564.0" y2="834.3" stroke="#9AABD8" stroke-width="1.3"/>
<line x1="575.0" y1="826.8" x2="582.0" y2="834.3" stroke="#9AABD8" stroke-width="1.3"/>
<line x1="593.0" y1="826.8" x2="600.0" y2="834.3" stroke="#9AABD8" stroke-width="1.3"/>
<line x1="611.0" y1="826.8" x2="618.0" y2="834.3" stroke="#9AABD8" stroke-width="1.3"/>
<g transform="translate(2.2,2.2)"><polygon points="79,830.3 88,820.8 161,820.8 170,830.3 161,839.8 88,839.8" fill="#A8B0BC" stroke="none"/></g>
<polygon points="79,830.3 88,820.8 161,820.8 170,830.3 161,839.8 88,839.8" fill="#D5E3FA" stroke="#7F8FA8" stroke-width="1.2"/>
<text x="152.8" y="835.3" class="port" text-anchor="end">J2</text>
<text x="637.0" y="751.5" class="des">J2</text>
<text x="719.0" y="771.4" class="des" text-anchor="end">PIN4</text>
<polyline points="728.0,766.1 864.5,766.1" fill="none" stroke="#000080" stroke-width="2.6" stroke-linejoin="miter" stroke-linecap="square"/>
<circle cx="728.0" cy="766.1" r="2.5" fill="#000080"/>
<text x="756.0" y="761.6" class="nl">ADCA4</text>
<text x="719.0" y="789.7" class="des" text-anchor="end">PIN5</text>
<polyline points="728.0,784.4 864.5,784.4" fill="none" stroke="#000080" stroke-width="2.6" stroke-linejoin="miter" stroke-linecap="square"/>
<circle cx="728.0" cy="784.4" r="2.5" fill="#000080"/>
<text x="756.0" y="779.9" class="nl">ADCA5</text>
<text x="719.0" y="807.9" class="des" text-anchor="end">PIN6</text>
<polyline points="728.0,802.6 864.5,802.6" fill="none" stroke="#000080" stroke-width="2.6" stroke-linejoin="miter" stroke-linecap="square"/>
<circle cx="728.0" cy="802.6" r="2.5" fill="#000080"/>
<text x="756.0" y="798.1" class="nl">ADCA6</text>
<text x="719.0" y="826.2" class="des" text-anchor="end">PIN7</text>
<polyline points="728.0,820.9 864.5,820.9" fill="none" stroke="#000080" stroke-width="2.6" stroke-linejoin="miter" stroke-linecap="square"/>
<circle cx="728.0" cy="820.9" r="2.5" fill="#000080"/>
<text x="756.0" y="816.4" class="nl">ADCA7</text>
<text x="719.0" y="844.5" class="des" text-anchor="end">PIN0</text>
<polyline points="728.0,839.2 864.5,839.2" fill="none" stroke="#000080" stroke-width="2.6" stroke-linejoin="miter" stroke-linecap="square"/>
<circle cx="728.0" cy="839.2" r="2.5" fill="#000080"/>
<text x="756.0" y="834.7" class="nl">ADCB0/AREFB</text>
<text x="719.0" y="862.8" class="des" text-anchor="end">PIN1</text>
<polyline points="728.0,857.5 864.5,857.5" fill="none" stroke="#000080" stroke-width="2.6" stroke-linejoin="miter" stroke-linecap="square"/>
<circle cx="728.0" cy="857.5" r="2.5" fill="#000080"/>
<text x="756.0" y="853.0" class="nl">ADCB1</text>
<text x="719.0" y="881.1" class="des" text-anchor="end">PIN2</text>
<polyline points="728.0,875.8 864.5,875.8" fill="none" stroke="#000080" stroke-width="2.6" stroke-linejoin="miter" stroke-linecap="square"/>
<circle cx="728.0" cy="875.8" r="2.5" fill="#000080"/>
<text x="756.0" y="871.3" class="nl">ADCB2</text>
<text x="719.0" y="899.3" class="des" text-anchor="end">PIN3</text>
<polyline points="728.0,894.0 864.5,894.0" fill="none" stroke="#000080" stroke-width="2.6" stroke-linejoin="miter" stroke-linecap="square"/>
<circle cx="728.0" cy="894.0" r="2.5" fill="#000080"/>
<text x="756.0" y="889.5" class="nl">ADCB3</text>
<text x="756.0" y="907.8" class="nl">TMS</text>
<text x="756.0" y="926.1" class="nl">TDI</text>
<text x="756.0" y="944.4" class="nl">TCK</text>
<text x="756.0" y="962.7" class="nl">TDO</text>
<rect x="188.0" y="902.5" width="129.0" height="91.5" fill="#EAF0F9"/>
<path d="M188.0,902.5 Q170.0,902.5 170.0,920.5 L170.0,930.9 Q170.0,948.9 152.0,948.9 Q170.0,948.9 170.0,966.9 L170.0,976.0 Q170.0,994.0 188.0,994.0" fill="none" stroke="#8C9CC8" stroke-width="1.6"/>
<rect x="133.0" y="943.9" width="19.0" height="10" fill="#C6D3F3" stroke="none"/>
<line x1="133.0" y1="949.4" x2="152.0" y2="949.4" stroke="#9AABD8" stroke-width="1.2" stroke-linecap="butt"/>
<line x1="142.0" y1="945.4" x2="149.0" y2="952.9" stroke="#9AABD8" stroke-width="1.3"/>
<g transform="translate(2.2,2.2)"><polygon points="15,948.9 24,939.4 124,939.4 133,948.9 124,958.4 24,958.4" fill="#A8B0BC" stroke="none"/></g>
<polygon points="15,948.9 24,939.4 124,939.4 133,948.9 124,958.4 24,958.4" fill="#D5E3FA" stroke="#7F8FA8" stroke-width="1.2"/>
<text x="115.8" y="953.9" class="port" text-anchor="end">JTAG/PDI</text>
<text x="225.0" y="899.0" class="des">JTAG/PDI</text>
<text x="307.0" y="917.6" class="des" text-anchor="end">TMS</text>
<circle cx="317.0" cy="912.3" r="2.5" fill="#000080"/>
<text x="344.0" y="907.8" class="nl">TMS</text>
<text x="307.0" y="935.9" class="des" text-anchor="end">TDI</text>
<circle cx="317.0" cy="930.6" r="2.5" fill="#000080"/>
<text x="344.0" y="926.1" class="nl">TDI</text>
<text x="307.0" y="954.2" class="des" text-anchor="end">TCK</text>
<circle cx="317.0" cy="948.9" r="2.5" fill="#000080"/>
<text x="344.0" y="944.4" class="nl">TCK</text>
<text x="307.0" y="972.5" class="des" text-anchor="end">TDO/PDI_DATA</text>
<circle cx="317.0" cy="967.2" r="2.5" fill="#000080"/>
<text x="344.0" y="962.7" class="nl">TDO/PDI_DATA</text>
<text x="307.0" y="990.7" class="des" text-anchor="end">RESET/PDI_CLK</text>
<circle cx="317.0" cy="985.4" r="2.5" fill="#000080"/>
<text x="344.0" y="980.9" class="nl">RESET_N/PDI_CLK</text>
<line x1="188.0" y1="976.0" x2="238.0" y2="976.0" stroke="#000080" stroke-width="1.2" stroke-linecap="butt"/>
<polyline points="317.0,912.3 864.5,912.3" fill="none" stroke="#000080" stroke-width="2.6" stroke-linejoin="miter" stroke-linecap="square"/>
<polyline points="317.0,930.6 864.5,930.6" fill="none" stroke="#000080" stroke-width="2.6" stroke-linejoin="miter" stroke-linecap="square"/>
<polyline points="317.0,948.9 864.5,948.9" fill="none" stroke="#000080" stroke-width="2.6" stroke-linejoin="miter" stroke-linecap="square"/>
<polyline points="317.0,967.2 496.0,967.2" fill="none" stroke="#000080" stroke-width="2.6" stroke-linejoin="miter" stroke-linecap="square"/>
<polyline points="520.0,967.2 864.5,967.2" fill="none" stroke="#000080" stroke-width="2.6" stroke-linejoin="miter" stroke-linecap="square"/>
<line x1="484.0" y1="967.2" x2="496.0" y2="967.2" stroke="#000" stroke-width="2.6" stroke-linecap="butt"/>
<line x1="520.0" y1="967.2" x2="532.0" y2="967.2" stroke="#000" stroke-width="2.6" stroke-linecap="butt"/>
<path d="M505,958.16 A9,9 0 0 0 505,976.16 M511,958.16 A9,9 0 0 1 511,976.16" fill="none" stroke="#0000E0" stroke-width="2"/>
<line x1="505.0" y1="958.2" x2="505.0" y2="976.2" stroke="#0000E0" stroke-width="2" stroke-linecap="butt"/>
<line x1="511.0" y1="958.2" x2="511.0" y2="976.2" stroke="#0000E0" stroke-width="2" stroke-linecap="butt"/>
<line x1="496.0" y1="967.2" x2="505.0" y2="967.2" stroke="#0000E0" stroke-width="2" stroke-linecap="butt"/>
<line x1="511.0" y1="967.2" x2="520.0" y2="967.2" stroke="#0000E0" stroke-width="2" stroke-linecap="butt"/>
<polyline points="317.0,985.4 417.0,985.4" fill="none" stroke="#000080" stroke-width="2.6" stroke-linejoin="miter" stroke-linecap="square"/>
<text x="499.0" y="990.5" class="des">J203</text>
<text x="408.0" y="1009.0" class="des">SMD-STRAP_0603_CLOSED</text>
<line x1="393.0" y1="1057.0" x2="487.0" y2="987.0" stroke="#000" stroke-width="1.5" stroke-linecap="butt"/>
<polygon points="492,983 478,987 486,996" fill="#000"/>
<line x1="846.5" y1="985.4" x2="864.5" y2="985.4" stroke="#800000" stroke-width="2.4" stroke-linecap="butt"/>
<line x1="846.5" y1="974.9" x2="846.5" y2="995.9" stroke="#800000" stroke-width="2.6" stroke-linecap="butt"/>
<text x="842.5" y="989.9" class="gnd" text-anchor="end">GND</text>
<polyline points="839.5,1003.7 864.5,1003.7" fill="none" stroke="#000080" stroke-width="2.2" stroke-linejoin="miter" stroke-linecap="square"/>
<circle cx="834.3" cy="1003.7" r="5.2" fill="none" stroke="#800000" stroke-width="1.3"/>
<text x="825.0" y="1008.7" class="pwr" text-anchor="end">VCC_MCU_P3V3</text>
<polyline points="864.5,1022.0 865.2,1332.5 554.0,1332.5" fill="none" stroke="#000080" stroke-width="2.6" stroke-linejoin="miter" stroke-linecap="square"/>
<polygon points="64,1062 404,1062 404,1290 385,1309 64,1309" fill="#F1EEDC" stroke="#C8C8C0" stroke-width="1"/>
<polygon points="60,1058 400,1058 400,1286 381,1305 60,1305" fill="#FFFF99" stroke="#333" stroke-width="1.3"/>
<polygon points="400,1286 381,1286 381,1305" fill="#C9C8C0" stroke="none"/>
<polygon points="62.5,1068 66.5,1061.5 70.5,1068" fill="#E02020" stroke="#700" stroke-width="0.6"/>
<text x="70.0" y="1081.5" class="note">Because JTAG TDO and PDI DATA are</text>
<text x="70.0" y="1099.9" class="note">sharing the same pin on the debug connector</text>
<text x="70.0" y="1118.3" class="note">there is a possible lock-up situation.</text>
<text x="70.0" y="1136.7" class="note">This can happen when all the following</text>
<text x="70.0" y="1155.1" class="note">conditions are met:</text>
<text x="70.0" y="1173.5" class="note">- The application uses the internal pull-up on</text>
<text x="70.0" y="1191.9" class="note">JTAG TDO</text>
<text x="70.0" y="1210.3" class="note">- No startup delay is used (STARTUPTIME</text>
<text x="70.0" y="1228.7" class="note">configuration)</text>
<text x="70.0" y="1247.1" class="note">- JTAG is disabled</text>
<text x="70.0" y="1265.5" class="note">Therefore it is possible to disconnect JTAG</text>
<text x="70.0" y="1283.9" class="note">TDO if necessary.</text>
<text x="690.0" y="1090.0" class="pwr">VCC_P3V3</text>
<circle cx="728.0" cy="1100.5" r="5.2" fill="none" stroke="#800000" stroke-width="1.3"/>
<line x1="728.0" y1="1105.7" x2="728.0" y2="1132.0" stroke="#000080" stroke-width="2.4" stroke-linecap="butt"/>
<polyline points="691.5,1132.0 765.0,1132.0" fill="none" stroke="#000080" stroke-width="2.6" stroke-linejoin="miter" stroke-linecap="square"/>
<circle cx="728.0" cy="1132.0" r="4.2" fill="#000080"/>
<rect x="683" y="1148.5" width="16" height="56.5" fill="#C4C4C4"/>
<line x1="691.0" y1="1132.0" x2="691.0" y2="1148.5" stroke="#C4C4C4" stroke-width="2" stroke-linecap="butt"/>
<line x1="691.0" y1="1205.0" x2="691.0" y2="1222.0" stroke="#C4C4C4" stroke-width="2" stroke-linecap="butt"/>
<text x="699.0" y="1163.5" class="gray">R200</text>
<text x="691.0" y="1183.0" class="red" text-anchor="middle">N.M.</text>
<rect x="756.5" y="1148.5" width="16" height="56.5" fill="#C4C4C4"/>
<line x1="764.5" y1="1132.0" x2="764.5" y2="1148.5" stroke="#C4C4C4" stroke-width="2" stroke-linecap="butt"/>
<line x1="764.5" y1="1205.0" x2="764.5" y2="1222.0" stroke="#C4C4C4" stroke-width="2" stroke-linecap="butt"/>
<text x="772.5" y="1163.5" class="gray">R201</text>
<text x="764.5" y="1183.0" class="red" text-anchor="middle">N.M.</text>
<polyline points="691.0,1222.0 691.0,1332.5" fill="none" stroke="#000080" stroke-width="2.6" stroke-linejoin="miter" stroke-linecap="square"/>
<circle cx="691.0" cy="1332.5" r="4.2" fill="#000080"/>
<polyline points="764.5,1222.0 764.5,1350.8" fill="none" stroke="#000080" stroke-width="2.6" stroke-linejoin="miter" stroke-linecap="square"/>
<circle cx="764.5" cy="1350.8" r="4.2" fill="#000080"/>
<rect x="480.0" y="1323.2" width="74.0" height="146.8" fill="#EAF0F9"/>
<path d="M480.0,1323.2 Q462.0,1323.2 462.0,1341.2 L462.0,1378.5 Q462.0,1396.5 448.0,1396.5 Q462.0,1396.5 462.0,1414.5 L462.0,1452.0 Q462.0,1470.0 480.0,1470.0" fill="none" stroke="#8C9CC8" stroke-width="1.6"/>
<rect x="353.0" y="1391.8" width="95.0" height="10" fill="#C6D3F3" stroke="none"/>
<line x1="353.0" y1="1397.3" x2="448.0" y2="1397.3" stroke="#9AABD8" stroke-width="1.2" stroke-linecap="butt"/>
<line x1="362.0" y1="1393.3" x2="369.0" y2="1400.8" stroke="#9AABD8" stroke-width="1.3"/>
<line x1="380.0" y1="1393.3" x2="387.0" y2="1400.8" stroke="#9AABD8" stroke-width="1.3"/>
<line x1="398.0" y1="1393.3" x2="405.0" y2="1400.8" stroke="#9AABD8" stroke-width="1.3"/>
<line x1="416.0" y1="1393.3" x2="423.0" y2="1400.8" stroke="#9AABD8" stroke-width="1.3"/>
<line x1="434.0" y1="1393.3" x2="441.0" y2="1400.8" stroke="#9AABD8" stroke-width="1.3"/>
<g transform="translate(2.2,2.2)"><polygon points="261.5,1396.8 270.5,1387.3 344,1387.3 353,1396.8 344,1406.3 270.5,1406.3" fill="#A8B0BC" stroke="none"/></g>
<polygon points="261.5,1396.8 270.5,1387.3 344,1387.3 353,1396.8 344,1406.3 270.5,1406.3" fill="#D5E3FA" stroke="#7F8FA8" stroke-width="1.2"/>
<text x="335.8" y="1401.8" class="port" text-anchor="end">J1</text>
<text x="444.0" y="1320.0" class="des">J1</text>
<text x="545.0" y="1337.8" class="des" text-anchor="end">PIN0</text>
<text x="591.0" y="1328.0" class="nl">TWIC_SDA</text>
<circle cx="554.0" cy="1332.5" r="2.5" fill="#000080"/>
<text x="545.0" y="1356.1" class="des" text-anchor="end">PIN1</text>
<text x="591.0" y="1346.3" class="nl">TWIC_SCL</text>
<circle cx="554.0" cy="1350.8" r="2.5" fill="#000080"/>
<polyline points="554.0,1350.8 1158.0,1350.8 1158.0,1278.5" fill="none" stroke="#000080" stroke-width="2.6" stroke-linejoin="miter" stroke-linecap="square"/>
<text x="545.0" y="1374.4" class="des" text-anchor="end">PIN2</text>
<text x="591.0" y="1364.6" class="nl">USARTC0_RXD</text>
<circle cx="554.0" cy="1369.1" r="2.5" fill="#000080"/>
<polyline points="554.0,1369.1 1176.3,1369.1 1176.3,1278.5" fill="none" stroke="#000080" stroke-width="2.6" stroke-linejoin="miter" stroke-linecap="square"/>
<text x="545.0" y="1392.6" class="des" text-anchor="end">PIN3</text>
<text x="591.0" y="1382.8" class="nl">USARTC0_TXD</text>
<circle cx="554.0" cy="1387.3" r="2.5" fill="#000080"/>
<polyline points="554.0,1387.3 1194.6,1387.3 1194.6,1278.5" fill="none" stroke="#000080" stroke-width="2.6" stroke-linejoin="miter" stroke-linecap="square"/>
<text x="545.0" y="1410.9" class="des" text-anchor="end">PIN4</text>
<text x="591.0" y="1401.1" class="nl">SPIC_SS</text>
<circle cx="554.0" cy="1405.6" r="2.5" fill="#000080"/>
<polyline points="554.0,1405.6 1213.0,1405.6 1213.0,1278.5" fill="none" stroke="#000080" stroke-width="2.6" stroke-linejoin="miter" stroke-linecap="square"/>
<text x="545.0" y="1429.2" class="des" text-anchor="end">PIN5</text>
<text x="591.0" y="1419.4" class="nl">SPIC_MOSI</text>
<circle cx="554.0" cy="1423.9" r="2.5" fill="#000080"/>
<polyline points="554.0,1423.9 1231.3,1423.9 1231.3,1278.5" fill="none" stroke="#000080" stroke-width="2.6" stroke-linejoin="miter" stroke-linecap="square"/>
<text x="545.0" y="1447.5" class="des" text-anchor="end">PIN6</text>
<text x="591.0" y="1437.7" class="nl">SPIC_MISO</text>
<circle cx="554.0" cy="1442.2" r="2.5" fill="#000080"/>
<polyline points="554.0,1442.2 1249.6,1442.2 1249.6,1278.5" fill="none" stroke="#000080" stroke-width="2.6" stroke-linejoin="miter" stroke-linecap="square"/>
<text x="545.0" y="1465.8" class="des" text-anchor="end">PIN7</text>
<text x="591.0" y="1456.0" class="nl">SPIC_SCK</text>
<circle cx="554.0" cy="1460.5" r="2.5" fill="#000080"/>
<polyline points="554.0,1460.5 1267.9,1460.5 1267.9,1278.5" fill="none" stroke="#000080" stroke-width="2.6" stroke-linejoin="miter" stroke-linecap="square"/>
<line x1="1286.2" y1="1278.5" x2="1286.2" y2="1295.0" stroke="#800000" stroke-width="2.4" stroke-linecap="butt"/>
<line x1="1275.7" y1="1295.0" x2="1296.7" y2="1295.0" stroke="#800000" stroke-width="2.6" stroke-linecap="butt"/>
<text x="1286.2" y="1310.0" class="gnd" text-anchor="middle">GND</text>
<polyline points="1304.6,1278.5 1304.6,1543.0 1240.5,1543.0 1240.5,1550.0" fill="none" stroke="#000080" stroke-width="2.6" stroke-linejoin="miter" stroke-linecap="square"/>
<circle cx="1240.5" cy="1555.3" r="5.2" fill="none" stroke="#800000" stroke-width="1.3"/>
<text x="1183.0" y="1570.5" class="pwr">VCC_MCU_P3V3</text>
<polyline points="1322.9,1278.5 1322.9,1647.0" fill="none" stroke="#000080" stroke-width="2.6" stroke-linejoin="miter" stroke-linecap="square"/>
<polyline points="1322.9,1673.0 1322.9,1780.2 1615.0,1780.2" fill="none" stroke="#000080" stroke-width="2.6" stroke-linejoin="miter" stroke-linecap="square"/>
<line x1="1322.9" y1="1636.0" x2="1322.9" y2="1648.0" stroke="#000" stroke-width="2.6" stroke-linecap="butt"/>
<line x1="1322.9" y1="1672.0" x2="1322.9" y2="1684.0" stroke="#000" stroke-width="2.6" stroke-linecap="butt"/>
<path d="M1313.88,1657 A9,9 0 0 1 1331.88,1657 M1313.88,1663 A9,9 0 0 0 1331.88,1663" fill="none" stroke="#0000E0" stroke-width="2"/>
<line x1="1313.9" y1="1657.0" x2="1331.9" y2="1657.0" stroke="#0000E0" stroke-width="2" stroke-linecap="butt"/>
<line x1="1313.9" y1="1663.0" x2="1331.9" y2="1663.0" stroke="#0000E0" stroke-width="2" stroke-linecap="butt"/>
<line x1="1322.9" y1="1648.0" x2="1322.9" y2="1657.0" stroke="#0000E0" stroke-width="2" stroke-linecap="butt"/>
<line x1="1322.9" y1="1663.0" x2="1322.9" y2="1672.0" stroke="#0000E0" stroke-width="2" stroke-linecap="butt"/>
<polyline points="1341.2,1278.5 1341.2,1762.2" fill="none" stroke="#000080" stroke-width="2.6" stroke-linejoin="miter" stroke-linecap="square"/>
<polyline points="1359.5,1278.5 1359.5,1743.9 1103.0,1743.9" fill="none" stroke="#000080" stroke-width="2.6" stroke-linejoin="miter" stroke-linecap="square"/>
<polyline points="1377.8,1278.5 1377.8,1725.6" fill="none" stroke="#000080" stroke-width="2.6" stroke-linejoin="miter" stroke-linecap="square"/>
<circle cx="1322.9" cy="1625.3" r="4.2" fill="#000080"/>
<circle cx="1341.2" cy="1607.0" r="4.2" fill="#000080"/>
<circle cx="1359.5" cy="1588.7" r="4.2" fill="#000080"/>
<circle cx="1377.8" cy="1570.4" r="4.2" fill="#000080"/>
<polyline points="1377.8,1570.4 2062.5,1570.4" fill="none" stroke="#000080" stroke-width="2.6" stroke-linejoin="miter" stroke-linecap="square"/>
<polyline points="1359.5,1588.7 2062.5,1588.7" fill="none" stroke="#000080" stroke-width="2.6" stroke-linejoin="miter" stroke-linecap="square"/>
<polyline points="1341.2,1607.0 2062.5,1607.0" fill="none" stroke="#000080" stroke-width="2.6" stroke-linejoin="miter" stroke-linecap="square"/>
<polyline points="1322.9,1625.3 2062.5,1625.3" fill="none" stroke="#000080" stroke-width="2.6" stroke-linejoin="miter" stroke-linecap="square"/>
<text x="1277.0" y="1639.0" class="des">J204</text>
<text x="1113.0" y="1657.0" class="des">SMD-STRAP_0603_CLOSED</text>
<polyline points="1396.2,1278.5 1396.2,1469.6 1596.5,1469.6" fill="none" stroke="#000080" stroke-width="2.6" stroke-linejoin="miter" stroke-linecap="square"/>
<polyline points="1414.5,1278.5 1414.5,1451.3 1596.5,1451.3" fill="none" stroke="#000080" stroke-width="2.6" stroke-linejoin="miter" stroke-linecap="square"/>
<polygon points="1596.5,1442.1499999999999 1733.5,1442.1499999999999 1742.5,1451.3 1733.5,1460.45 1596.5,1460.45" fill="#FFFF88" stroke="#9A5A3A" stroke-width="1.2"/>
<text x="1615.0" y="1456.3" class="port">POWER_LED</text>
<polygon points="1596.5,1460.4499999999998 1733.5,1460.4499999999998 1742.5,1469.6 1733.5,1478.75 1596.5,1478.75" fill="#FFFF88" stroke="#9A5A3A" stroke-width="1.2"/>
<text x="1615.0" y="1474.6" class="port">STATUS_LED</text>
<polyline points="1432.8,1278.5 1432.8,1278.0 1753.5,1278.0" fill="none" stroke="#000080" stroke-width="2.6" stroke-linejoin="miter" stroke-linecap="square"/>
<polygon points="1753.5,1278 1762.5,1268.85 1843.5,1268.85 1852.5,1278 1843.5,1287.15 1762.5,1287.15" fill="#FFFF88" stroke="#9A5A3A" stroke-width="1.2"/>
<text x="1772.0" y="1283.0" class="port">USB_DM</text>
<text x="1246.6" y="1405.0" class="nl" transform="rotate(-90 1246.6 1405.0)">SPIC_MISO</text>
<text x="1264.9" y="1405.0" class="nl" transform="rotate(-90 1264.9 1405.0)">SPIC_SCK</text>
<text x="1319.9" y="1442.0" class="nl" transform="rotate(-90 1319.9 1442.0)">USARTD0_SPI_SS</text>
<text x="1338.2" y="1442.0" class="nl" transform="rotate(-90 1338.2 1442.0)">USARTD0_SPI_SCK</text>
<text x="1356.5" y="1442.0" class="nl" transform="rotate(-90 1356.5 1442.0)">USARTD0_SPI_MISO</text>
<text x="1374.8" y="1442.0" class="nl" transform="rotate(-90 1374.8 1442.0)">USARTD0_SPI_MOSI</text>
<text x="1393.2" y="1442.0" class="nl" transform="rotate(-90 1393.2 1442.0)">STATUS_LED</text>
<text x="1411.5" y="1442.0" class="nl" transform="rotate(-90 1411.5 1442.0)">POWER_LED</text>
<polygon points="1601,1309.3 1839.5,1309.3 1839.5,1372.4 1820.5,1391.4 1601,1391.4" fill="#F1EEDC" stroke="#C8C8C0" stroke-width="1"/>
<polygon points="1597,1305.3 1835.5,1305.3 1835.5,1368.4 1816.5,1387.4 1597,1387.4" fill="#FFFF99" stroke="#333" stroke-width="1.3"/>
<polygon points="1835.5,1368.4 1816.5,1368.4 1816.5,1387.4" fill="#C9C8C0" stroke="none"/>
<polygon points="1599.5,1315.3 1603.5,1308.8 1607.5,1315.3" fill="#E02020" stroke="#700" stroke-width="0.6"/>
<text x="1606.4" y="1329.0" class="note">No external termination is</text>
<text x="1606.4" y="1347.3" class="note">needed on the USB signals since</text>
<text x="1606.4" y="1365.6" class="note">this is calibrated internally</text>
<rect x="2062.5" y="1487.5" width="74.5" height="146.5" fill="#EAF0F9"/>
<path d="M2137.0,1487.5 Q2155.0,1487.5 2155.0,1505.5 L2155.0,1543.2 Q2155.0,1561.2 2172.0,1561.2 Q2155.0,1561.2 2155.0,1579.2 L2155.0,1616.0 Q2155.0,1634.0 2137.0,1634.0" fill="none" stroke="#8C9CC8" stroke-width="1.6"/>
<rect x="2172.0" y="1556.2" width="93.0" height="10" fill="#C6D3F3" stroke="none"/>
<line x1="2172.0" y1="1561.7" x2="2265.0" y2="1561.7" stroke="#9AABD8" stroke-width="1.2" stroke-linecap="butt"/>
<line x1="2181.0" y1="1557.7" x2="2188.0" y2="1565.2" stroke="#9AABD8" stroke-width="1.3"/>
<line x1="2199.0" y1="1557.7" x2="2206.0" y2="1565.2" stroke="#9AABD8" stroke-width="1.3"/>
<line x1="2217.0" y1="1557.7" x2="2224.0" y2="1565.2" stroke="#9AABD8" stroke-width="1.3"/>
<line x1="2235.0" y1="1557.7" x2="2242.0" y2="1565.2" stroke="#9AABD8" stroke-width="1.3"/>
<line x1="2253.0" y1="1557.7" x2="2260.0" y2="1565.2" stroke="#9AABD8" stroke-width="1.3"/>
<g transform="translate(2.2,2.2)"><polygon points="2265,1561.2 2274,1551.7 2347.5,1551.7 2356.5,1561.2 2347.5,1570.7 2274,1570.7" fill="#A8B0BC" stroke="none"/></g>
<polygon points="2265,1561.2 2274,1551.7 2347.5,1551.7 2356.5,1561.2 2347.5,1570.7 2274,1570.7" fill="#D5E3FA" stroke="#7F8FA8" stroke-width="1.2"/>
<text x="2283.5" y="1566.2" class="port">J4</text>
<text x="2063.0" y="1483.5" class="des">J4</text>
<text x="2072.5" y="1502.6" class="des">PIN3</text>
<circle cx="2062.5" cy="1497.3" r="2.5" fill="#000080"/>
<text x="1935.0" y="1492.8" class="nl">USARTE0_TXD</text>
<text x="2072.5" y="1520.9" class="des">PIN2</text>
<circle cx="2062.5" cy="1515.6" r="2.5" fill="#000080"/>
<text x="1935.0" y="1511.1" class="nl">USARTE0_RXD</text>
<text x="2072.5" y="1539.2" class="des">PIN1</text>
<circle cx="2062.5" cy="1533.9" r="2.5" fill="#000080"/>
<text x="1935.0" y="1529.4" class="nl">TWIE_SCL</text>
<text x="2072.5" y="1557.4" class="des">PIN0</text>
<circle cx="2062.5" cy="1552.1" r="2.5" fill="#000080"/>
<text x="1935.0" y="1547.6" class="nl">TWIE_SDA</text>
<text x="2072.5" y="1575.7" class="des">PIN5</text>
<circle cx="2062.5" cy="1570.4" r="2.5" fill="#000080"/>
<text x="1899.0" y="1565.9" class="nl">USARTD0_SPI_MOSI</text>
<text x="2072.5" y="1594.0" class="des">PIN6</text>
<circle cx="2062.5" cy="1588.7" r="2.5" fill="#000080"/>
<text x="1899.0" y="1584.2" class="nl">USARTD0_SPI_MISO</text>
<text x="2072.5" y="1612.3" class="des">PIN7</text>
<circle cx="2062.5" cy="1607.0" r="2.5" fill="#000080"/>
<text x="1899.0" y="1602.5" class="nl">USARTD0_SPI_SCK</text>
<text x="2072.5" y="1630.6" class="des">PIN4</text>
<circle cx="2062.5" cy="1625.3" r="2.5" fill="#000080"/>
<text x="1899.0" y="1620.8" class="nl">USARTD0_SPI_SS</text>
<polyline points="1670.1,912.3 1898.5,912.3 1898.5,1497.3 2062.5,1497.3" fill="none" stroke="#000080" stroke-width="2.6" stroke-linejoin="miter" stroke-linecap="square"/>
<polyline points="1670.1,930.6 1889.5,930.6 1889.5,1515.6 2062.5,1515.6" fill="none" stroke="#000080" stroke-width="2.6" stroke-linejoin="miter" stroke-linecap="square"/>
<polyline points="1670.1,948.9 1880.5,948.9 1880.5,1533.9 2062.5,1533.9" fill="none" stroke="#000080" stroke-width="2.6" stroke-linejoin="miter" stroke-linecap="square"/>
<polyline points="1670.1,967.2 1871.5,967.2 1871.5,1552.1 2062.5,1552.1" fill="none" stroke="#000080" stroke-width="2.6" stroke-linejoin="miter" stroke-linecap="square"/>
<rect x="1001.0" y="1707.0" width="102.0" height="83.0" fill="#EAF0F9"/>
<path d="M1001.0,1707.0 Q983.0,1707.0 983.0,1725.0 L983.0,1725.7 Q983.0,1743.7 965.0,1743.7 Q983.0,1743.7 983.0,1761.7 L983.0,1772.0 Q983.0,1790.0 1001.0,1790.0" fill="none" stroke="#8C9CC8" stroke-width="1.6"/>
<rect x="865.0" y="1738.9" width="100.0" height="10" fill="#C6D3F3" stroke="none"/>
<line x1="865.0" y1="1744.4" x2="965.0" y2="1744.4" stroke="#9AABD8" stroke-width="1.2" stroke-linecap="butt"/>
<line x1="874.0" y1="1740.4" x2="881.0" y2="1747.9" stroke="#9AABD8" stroke-width="1.3"/>
<line x1="892.0" y1="1740.4" x2="899.0" y2="1747.9" stroke="#9AABD8" stroke-width="1.3"/>
<line x1="910.0" y1="1740.4" x2="917.0" y2="1747.9" stroke="#9AABD8" stroke-width="1.3"/>
<line x1="928.0" y1="1740.4" x2="935.0" y2="1747.9" stroke="#9AABD8" stroke-width="1.3"/>
<line x1="946.0" y1="1740.4" x2="953.0" y2="1747.9" stroke="#9AABD8" stroke-width="1.3"/>
<g transform="translate(2.2,2.2)"><polygon points="728.5,1743.9 737.5,1734.4 856,1734.4 865,1743.9 856,1753.4 737.5,1753.4" fill="#A8B0BC" stroke="none"/></g>
<polygon points="728.5,1743.9 737.5,1734.4 856,1734.4 865,1743.9 856,1753.4 737.5,1753.4" fill="#D5E3FA" stroke="#7F8FA8" stroke-width="1.2"/>
<text x="847.8" y="1748.9" class="port" text-anchor="end">SERIAL_FLASH</text>
<text x="966.0" y="1703.5" class="des">SERIAL_FLASH</text>
<text x="1094.0" y="1730.9" class="des" text-anchor="end">MOSI</text>
<circle cx="1103.0" cy="1725.6" r="2.5" fill="#000080"/>
<text x="1094.0" y="1749.2" class="des" text-anchor="end">MISO</text>
<circle cx="1103.0" cy="1743.9" r="2.5" fill="#000080"/>
<text x="1094.0" y="1767.5" class="des" text-anchor="end">SCK</text>
<circle cx="1103.0" cy="1762.2" r="2.5" fill="#000080"/>
<text x="1094.0" y="1785.8" class="des" text-anchor="end">SS</text>
<circle cx="1103.0" cy="1780.5" r="2.5" fill="#000080"/>
<line x1="1075.5" y1="1771.5" x2="1095.0" y2="1771.5" stroke="#000080" stroke-width="2" stroke-linecap="butt"/>
<polyline points="1103.0,1725.6 1615.0,1725.6" fill="none" stroke="#000080" stroke-width="2.6" stroke-linejoin="miter" stroke-linecap="square"/>
<circle cx="1377.8" cy="1725.6" r="4.2" fill="#000080"/>
<polyline points="1103.0,1762.2 1615.0,1762.2" fill="none" stroke="#000080" stroke-width="2.6" stroke-linejoin="miter" stroke-linecap="square"/>
<circle cx="1341.2" cy="1762.2" r="4.2" fill="#000080"/>
<polyline points="1103.0,1780.5 1204.0,1780.5" fill="none" stroke="#000080" stroke-width="2.6" stroke-linejoin="miter" stroke-linecap="square"/>
<text x="1121.5" y="1721.1" class="nl">USARTD0_SPI_MOSI</text>
<text x="1121.5" y="1739.4" class="nl">USARTD0_SPI_MISO</text>
<text x="1121.5" y="1757.7" class="nl">USARTD0_SPI_SCK</text>
<text x="1121.5" y="1776.0" class="nl">FLASH_SS</text>
<rect x="1615.0" y="1707.0" width="156.0" height="146.0" fill="#EAF0F9"/>
<path d="M1771.0,1707.0 Q1789.0,1707.0 1789.0,1725.0 L1789.0,1744.2 Q1789.0,1762.2 1807.0,1762.2 Q1789.0,1762.2 1789.0,1780.2 L1789.0,1835.0 Q1789.0,1853.0 1771.0,1853.0" fill="none" stroke="#8C9CC8" stroke-width="1.6"/>
<rect x="1807.0" y="1757.2" width="38.0" height="10" fill="#C6D3F3" stroke="none"/>
<line x1="1807.0" y1="1762.7" x2="1845.0" y2="1762.7" stroke="#9AABD8" stroke-width="1.2" stroke-linecap="butt"/>
<line x1="1816.0" y1="1758.7" x2="1823.0" y2="1766.2" stroke="#9AABD8" stroke-width="1.3"/>
<line x1="1834.0" y1="1758.7" x2="1841.0" y2="1766.2" stroke="#9AABD8" stroke-width="1.3"/>
<g transform="translate(2.2,2.2)"><polygon points="1845,1762.2 1854,1752.7 1945,1752.7 1954,1762.2 1945,1771.7 1854,1771.7" fill="#A8B0BC" stroke="none"/></g>
<polygon points="1845,1762.2 1854,1752.7 1945,1752.7 1954,1762.2 1945,1771.7 1854,1771.7" fill="#D5E3FA" stroke="#7F8FA8" stroke-width="1.2"/>
<text x="1863.5" y="1767.2" class="port">DISPLAY</text>
<text x="1615.0" y="1703.5" class="des">DISPLAY</text>
<text x="1624.5" y="1730.9" class="des">SPI_MOSI</text>
<circle cx="1615.0" cy="1725.6" r="2.5" fill="#000080"/>
<text x="1624.5" y="1767.5" class="des">SPI_SCK</text>
<circle cx="1615.0" cy="1762.2" r="2.5" fill="#000080"/>
<text x="1624.5" y="1785.8" class="des">REGISTER_SELECT</text>
<circle cx="1615.0" cy="1780.5" r="2.5" fill="#000080"/>
<text x="1624.5" y="1804.1" class="des">SPI_SS</text>
<circle cx="1615.0" cy="1798.8" r="2.5" fill="#000080"/>
<text x="1624.5" y="1822.4" class="des">BACKLIGHT</text>
<circle cx="1615.0" cy="1817.1" r="2.5" fill="#000080"/>
<text x="1624.5" y="1840.7" class="des">RESET</text>
<circle cx="1615.0" cy="1835.4" r="2.5" fill="#000080"/>
<line x1="1624.0" y1="1789.8" x2="1675.0" y2="1789.8" stroke="#000080" stroke-width="2" stroke-linecap="butt"/>
<line x1="1624.0" y1="1825.7" x2="1675.0" y2="1825.7" stroke="#000080" stroke-width="2" stroke-linecap="butt"/>
<text x="1441.0" y="1721.1" class="nl">USARTD0_SPI_MOSI</text>
<text x="1441.0" y="1757.7" class="nl">USARTD0_SPI_SCK</text>
<text x="1441.0" y="1776.0" class="nl">DISPLAY_RS</text>
<text x="1441.0" y="1794.3" class="nl">DISPLAY_SS</text>
<text x="1441.0" y="1812.6" class="nl">DISPLAY_BACKLIGHT</text>
<text x="1441.0" y="1830.9" class="nl">DISPLAY_RESET</text>
<polyline points="1441.0,1798.8 1615.0,1798.8" fill="none" stroke="#000080" stroke-width="2.6" stroke-linejoin="miter" stroke-linecap="square"/>
<polyline points="1441.0,1817.1 1615.0,1817.1" fill="none" stroke="#000080" stroke-width="2.6" stroke-linejoin="miter" stroke-linecap="square"/>
<polyline points="1441.0,1835.4 1615.0,1835.4" fill="none" stroke="#000080" stroke-width="2.6" stroke-linejoin="miter" stroke-linecap="square"/>
<text x="250.0" y="1785.0" class="pwr">VCC_MCU_P3V3</text>
<circle cx="307.5" cy="1795.0" r="5.2" fill="none" stroke="#800000" stroke-width="1.3"/>
<line x1="307.5" y1="1800.2" x2="307.5" y2="1807.0" stroke="#000080" stroke-width="2.2" stroke-linecap="butt"/>
<polyline points="87.5,1807.0 526.5,1807.0" fill="none" stroke="#000080" stroke-width="2.6" stroke-linejoin="miter" stroke-linecap="square"/>
<polyline points="87.5,1862.0 526.5,1862.0" fill="none" stroke="#000080" stroke-width="2.6" stroke-linejoin="miter" stroke-linecap="square"/>
<line x1="87.5" y1="1807.0" x2="87.5" y2="1829.0" stroke="#000080" stroke-width="2.6" stroke-linecap="butt"/>
<line x1="87.5" y1="1838.0" x2="87.5" y2="1862.0" stroke="#000080" stroke-width="2.6" stroke-linecap="butt"/>
<line x1="70.5" y1="1829.0" x2="104.5" y2="1829.0" stroke="#0000E0" stroke-width="2.6" stroke-linecap="butt"/>
<line x1="70.5" y1="1838.0" x2="104.5" y2="1838.0" stroke="#0000E0" stroke-width="2.6" stroke-linecap="butt"/>
<text x="106.5" y="1822.5" class="des">C203</text>
<text x="106.5" y="1858.5" class="des">100n</text>
<line x1="197.5" y1="1807.0" x2="197.5" y2="1829.0" stroke="#000080" stroke-width="2.6" stroke-linecap="butt"/>
<line x1="197.5" y1="1838.0" x2="197.5" y2="1862.0" stroke="#000080" stroke-width="2.6" stroke-linecap="butt"/>
<line x1="180.5" y1="1829.0" x2="214.5" y2="1829.0" stroke="#0000E0" stroke-width="2.6" stroke-linecap="butt"/>
<line x1="180.5" y1="1838.0" x2="214.5" y2="1838.0" stroke="#0000E0" stroke-width="2.6" stroke-linecap="butt"/>
<text x="216.5" y="1822.5" class="des">C204</text>
<text x="216.5" y="1858.5" class="des">100n</text>
<line x1="307.5" y1="1807.0" x2="307.5" y2="1829.0" stroke="#000080" stroke-width="2.6" stroke-linecap="butt"/>
<line x1="307.5" y1="1838.0" x2="307.5" y2="1862.0" stroke="#000080" stroke-width="2.6" stroke-linecap="butt"/>
<line x1="290.5" y1="1829.0" x2="324.5" y2="1829.0" stroke="#0000E0" stroke-width="2.6" stroke-linecap="butt"/>
<line x1="290.5" y1="1838.0" x2="324.5" y2="1838.0" stroke="#0000E0" stroke-width="2.6" stroke-linecap="butt"/>
<text x="326.5" y="1822.5" class="des">C205</text>
<text x="326.5" y="1858.5" class="des">100n</text>
<line x1="417.0" y1="1807.0" x2="417.0" y2="1829.0" stroke="#000080" stroke-width="2.6" stroke-linecap="butt"/>
<line x1="417.0" y1="1838.0" x2="417.0" y2="1862.0" stroke="#000080" stroke-width="2.6" stroke-linecap="butt"/>
<line x1="400.0" y1="1829.0" x2="434.0" y2="1829.0" stroke="#0000E0" stroke-width="2.6" stroke-linecap="butt"/>
<line x1="400.0" y1="1838.0" x2="434.0" y2="1838.0" stroke="#0000E0" stroke-width="2.6" stroke-linecap="butt"/>
<text x="436.0" y="1822.5" class="des">C206</text>
<text x="436.0" y="1858.5" class="des">100n</text>
<line x1="526.5" y1="1807.0" x2="526.5" y2="1829.0" stroke="#000080" stroke-width="2.6" stroke-linecap="butt"/>
<line x1="526.5" y1="1838.0" x2="526.5" y2="1862.0" stroke="#000080" stroke-width="2.6" stroke-linecap="butt"/>
<line x1="509.5" y1="1829.0" x2="543.5" y2="1829.0" stroke="#0000E0" stroke-width="2.6" stroke-linecap="butt"/>
<line x1="509.5" y1="1838.0" x2="543.5" y2="1838.0" stroke="#0000E0" stroke-width="2.6" stroke-linecap="butt"/>
<text x="545.5" y="1822.5" class="des">C207</text>
<text x="545.5" y="1858.5" class="des">100n</text>
<circle cx="197.5" cy="1807.0" r="4.2" fill="#000080"/>
<circle cx="197.5" cy="1862.0" r="4.2" fill="#000080"/>
<circle cx="307.5" cy="1807.0" r="4.2" fill="#000080"/>
<circle cx="307.5" cy="1862.0" r="4.2" fill="#000080"/>
<circle cx="417.0" cy="1807.0" r="4.2" fill="#000080"/>
<circle cx="417.0" cy="1862.0" r="4.2" fill="#000080"/>
<line x1="307.5" y1="1862.0" x2="307.5" y2="1880.0" stroke="#800000" stroke-width="2.4" stroke-linecap="butt"/>
<line x1="297.0" y1="1880.0" x2="318.0" y2="1880.0" stroke="#800000" stroke-width="2.6" stroke-linecap="butt"/>
<text x="307.5" y="1894.0" class="gnd" text-anchor="middle">GND</text>
<rect x="920.0" y="565.2" width="694.6" height="657.8" fill="#FFFCB0" stroke="#800000" stroke-width="2.4"/>
<text x="920.0" y="543.0" class="des">U200</text>
<text x="924.0" y="560.5" class="des">ATxmega256A3BU-AU</text>
<line x1="864.5" y1="747.8" x2="896.0" y2="747.8" stroke="#000" stroke-width="2.6" stroke-linecap="butt"/>
<path d="M896.0,747.8 L908.0,744.0 L908.0,751.6 Z M908.0,744.0 L920.0,747.8 L908.0,751.6 Z" fill="none" stroke="#222" stroke-width="0.9"/>
<path d="M906.7,744.3 v7 M909.3,744.3 v7 M906.7,747.8 h2.6" stroke="#111" stroke-width="1" fill="none"/>
<text x="905.5" y="743.3" class="num" text-anchor="end">1</text>
<text x="934.0" y="752.6" class="pn">PA3(ADCA3/ACA3)</text>
<line x1="1638.6" y1="747.8" x2="1670.1" y2="747.8" stroke="#000" stroke-width="2.6" stroke-linecap="butt"/>
<path d="M1638.6,747.8 L1626.6,744.0 L1626.6,751.6 Z M1626.6,744.0 L1614.6,747.8 L1626.6,751.6 Z" fill="none" stroke="#222" stroke-width="0.9"/>
<path d="M1625.3,744.3 v7 M1627.9,744.3 v7 M1625.3,747.8 h2.6" stroke="#111" stroke-width="1" fill="none"/>
<text x="1631.0" y="743.3" class="num">48</text>
<text x="1603.5" y="752.6" class="pn" text-anchor="end">(OC0C/RXD0)PF2</text>
<line x1="864.5" y1="766.1" x2="896.0" y2="766.1" stroke="#000" stroke-width="2.6" stroke-linecap="butt"/>
<path d="M896.0,766.1 L908.0,762.3 L908.0,769.9 Z M908.0,762.3 L920.0,766.1 L908.0,769.9 Z" fill="none" stroke="#222" stroke-width="0.9"/>
<path d="M906.7,762.6 v7 M909.3,762.6 v7 M906.7,766.1 h2.6" stroke="#111" stroke-width="1" fill="none"/>
<text x="905.5" y="761.6" class="num" text-anchor="end">2</text>
<text x="934.0" y="770.9" class="pn">PA4(ADCA4/ACA4)</text>
<line x1="1638.6" y1="766.1" x2="1670.1" y2="766.1" stroke="#000" stroke-width="2.6" stroke-linecap="butt"/>
<path d="M1638.6,766.1 L1626.6,762.3 L1626.6,769.9 Z M1626.6,762.3 L1614.6,766.1 L1626.6,769.9 Z" fill="none" stroke="#222" stroke-width="0.9"/>
<path d="M1625.3,762.6 v7 M1627.9,762.6 v7 M1625.3,766.1 h2.6" stroke="#111" stroke-width="1" fill="none"/>
<text x="1631.0" y="761.6" class="num">47</text>
<text x="1603.5" y="770.9" class="pn" text-anchor="end">(OC0B/XCK0)PF1</text>
<line x1="864.5" y1="784.4" x2="896.0" y2="784.4" stroke="#000" stroke-width="2.6" stroke-linecap="butt"/>
<path d="M896.0,784.4 L908.0,780.6 L908.0,788.2 Z M908.0,780.6 L920.0,784.4 L908.0,788.2 Z" fill="none" stroke="#222" stroke-width="0.9"/>
<path d="M906.7,780.9 v7 M909.3,780.9 v7 M906.7,784.4 h2.6" stroke="#111" stroke-width="1" fill="none"/>
<text x="905.5" y="779.9" class="num" text-anchor="end">3</text>
<text x="934.0" y="789.2" class="pn">PA5(ADCA5/ACA5)</text>
<line x1="1638.6" y1="784.4" x2="1670.1" y2="784.4" stroke="#000" stroke-width="2.6" stroke-linecap="butt"/>
<path d="M1638.6,784.4 L1626.6,780.6 L1626.6,788.2 Z M1626.6,780.6 L1614.6,784.4 L1626.6,788.2 Z" fill="none" stroke="#222" stroke-width="0.9"/>
<path d="M1625.3,780.9 v7 M1627.9,780.9 v7 M1625.3,784.4 h2.6" stroke="#111" stroke-width="1" fill="none"/>
<text x="1631.0" y="779.9" class="num">46</text>
<text x="1603.5" y="789.2" class="pn" text-anchor="end">(OC0A)PF0</text>
<line x1="864.5" y1="802.6" x2="896.0" y2="802.6" stroke="#000" stroke-width="2.6" stroke-linecap="butt"/>
<path d="M896.0,802.6 L908.0,798.8 L908.0,806.4 Z M908.0,798.8 L920.0,802.6 L908.0,806.4 Z" fill="none" stroke="#222" stroke-width="0.9"/>
<path d="M906.7,799.1 v7 M909.3,799.1 v7 M906.7,802.6 h2.6" stroke="#111" stroke-width="1" fill="none"/>
<text x="905.5" y="798.1" class="num" text-anchor="end">4</text>
<text x="934.0" y="807.4" class="pn">PA6(ADCA6/ACA6)</text>
<line x1="1614.6" y1="802.6" x2="1670.1" y2="802.6" stroke="#000" stroke-width="2.6" stroke-linecap="butt"/>
<text x="1631.0" y="798.1" class="num">45</text>
<text x="1603.5" y="807.4" class="pn" text-anchor="end">VCC</text>
<line x1="864.5" y1="820.9" x2="896.0" y2="820.9" stroke="#000" stroke-width="2.6" stroke-linecap="butt"/>
<path d="M896.0,820.9 L908.0,817.1 L908.0,824.7 Z M908.0,817.1 L920.0,820.9 L908.0,824.7 Z" fill="none" stroke="#222" stroke-width="0.9"/>
<path d="M906.7,817.4 v7 M909.3,817.4 v7 M906.7,820.9 h2.6" stroke="#111" stroke-width="1" fill="none"/>
<text x="905.5" y="816.4" class="num" text-anchor="end">5</text>
<text x="934.0" y="825.7" class="pn">PA7(ADCA7/ACA7)</text>
<line x1="1614.6" y1="820.9" x2="1670.1" y2="820.9" stroke="#000" stroke-width="2.6" stroke-linecap="butt"/>
<text x="1631.0" y="816.4" class="num">44</text>
<text x="1603.5" y="825.7" class="pn" text-anchor="end">GND</text>
<line x1="864.5" y1="839.2" x2="896.0" y2="839.2" stroke="#000" stroke-width="2.6" stroke-linecap="butt"/>
<path d="M896.0,839.2 L908.0,835.4 L908.0,843.0 Z M908.0,835.4 L920.0,839.2 L908.0,843.0 Z" fill="none" stroke="#222" stroke-width="0.9"/>
<path d="M906.7,835.7 v7 M909.3,835.7 v7 M906.7,839.2 h2.6" stroke="#111" stroke-width="1" fill="none"/>
<text x="905.5" y="834.7" class="num" text-anchor="end">6</text>
<text x="934.0" y="844.0" class="pn">PB0(ADCB0/ACB0/AREFB)</text>
<line x1="1638.6" y1="839.2" x2="1670.1" y2="839.2" stroke="#000" stroke-width="2.6" stroke-linecap="butt"/>
<path d="M1638.6,839.2 L1626.6,835.4 L1626.6,843.0 Z M1626.6,835.4 L1614.6,839.2 L1626.6,843.0 Z" fill="none" stroke="#222" stroke-width="0.9"/>
<path d="M1625.3,835.7 v7 M1627.9,835.7 v7 M1625.3,839.2 h2.6" stroke="#111" stroke-width="1" fill="none"/>
<text x="1631.0" y="834.7" class="num">43</text>
<text x="1603.5" y="844.0" class="pn" text-anchor="end">TOSC1</text>
<line x1="864.5" y1="857.5" x2="896.0" y2="857.5" stroke="#000" stroke-width="2.6" stroke-linecap="butt"/>
<path d="M896.0,857.5 L908.0,853.7 L908.0,861.3 Z M908.0,853.7 L920.0,857.5 L908.0,861.3 Z" fill="none" stroke="#222" stroke-width="0.9"/>
<path d="M906.7,854.0 v7 M909.3,854.0 v7 M906.7,857.5 h2.6" stroke="#111" stroke-width="1" fill="none"/>
<text x="905.5" y="853.0" class="num" text-anchor="end">7</text>
<text x="934.0" y="862.3" class="pn">PB1(ADCB1/ACB1)</text>
<line x1="1638.6" y1="857.5" x2="1670.1" y2="857.5" stroke="#000" stroke-width="2.6" stroke-linecap="butt"/>
<path d="M1638.6,857.5 L1626.6,853.7 L1626.6,861.3 Z M1626.6,853.7 L1614.6,857.5 L1626.6,861.3 Z" fill="none" stroke="#222" stroke-width="0.9"/>
<path d="M1625.3,854.0 v7 M1627.9,854.0 v7 M1625.3,857.5 h2.6" stroke="#111" stroke-width="1" fill="none"/>
<text x="1631.0" y="853.0" class="num">42</text>
<text x="1603.5" y="862.3" class="pn" text-anchor="end">TOSC2</text>
<line x1="864.5" y1="875.8" x2="896.0" y2="875.8" stroke="#000" stroke-width="2.6" stroke-linecap="butt"/>
<path d="M896.0,875.8 L908.0,872.0 L908.0,879.6 Z M908.0,872.0 L920.0,875.8 L908.0,879.6 Z" fill="none" stroke="#222" stroke-width="0.9"/>
<path d="M906.7,872.3 v7 M909.3,872.3 v7 M906.7,875.8 h2.6" stroke="#111" stroke-width="1" fill="none"/>
<text x="905.5" y="871.3" class="num" text-anchor="end">8</text>
<text x="934.0" y="880.6" class="pn">PB2(ADCB2/ACB2/DACB0)</text>
<line x1="1638.6" y1="875.8" x2="1670.1" y2="875.8" stroke="#000" stroke-width="2.6" stroke-linecap="butt"/>
<path d="M1638.6,875.8 L1626.6,872.0 L1626.6,879.6 Z M1626.6,872.0 L1614.6,875.8 L1626.6,879.6 Z" fill="none" stroke="#222" stroke-width="0.9"/>
<path d="M1625.3,872.3 v7 M1627.9,872.3 v7 M1625.3,875.8 h2.6" stroke="#111" stroke-width="1" fill="none"/>
<text x="1631.0" y="871.3" class="num">41</text>
<text x="1603.5" y="880.6" class="pn" text-anchor="end">(OC1B)PE5</text>
<line x1="864.5" y1="894.0" x2="896.0" y2="894.0" stroke="#000" stroke-width="2.6" stroke-linecap="butt"/>
<path d="M896.0,894.0 L908.0,890.2 L908.0,897.8 Z M908.0,890.2 L920.0,894.0 L908.0,897.8 Z" fill="none" stroke="#222" stroke-width="0.9"/>
<path d="M906.7,890.5 v7 M909.3,890.5 v7 M906.7,894.0 h2.6" stroke="#111" stroke-width="1" fill="none"/>
<text x="905.5" y="889.5" class="num" text-anchor="end">9</text>
<text x="934.0" y="898.8" class="pn">PB3(ADCB3/ACB3/DACB1)</text>
<line x1="1638.6" y1="894.0" x2="1670.1" y2="894.0" stroke="#000" stroke-width="2.6" stroke-linecap="butt"/>
<path d="M1638.6,894.0 L1626.6,890.2 L1626.6,897.8 Z M1626.6,890.2 L1614.6,894.0 L1626.6,897.8 Z" fill="none" stroke="#222" stroke-width="0.9"/>
<path d="M1625.3,890.5 v7 M1627.9,890.5 v7 M1625.3,894.0 h2.6" stroke="#111" stroke-width="1" fill="none"/>
<text x="1631.0" y="889.5" class="num">40</text>
<text x="1603.5" y="898.8" class="pn" text-anchor="end">(OC1A)PE4</text>
<line x1="864.5" y1="912.3" x2="896.0" y2="912.3" stroke="#000" stroke-width="2.6" stroke-linecap="butt"/>
<path d="M896.0,912.3 L908.0,908.5 L908.0,916.1 Z M908.0,908.5 L920.0,912.3 L908.0,916.1 Z" fill="none" stroke="#222" stroke-width="0.9"/>
<path d="M906.7,908.8 v7 M909.3,908.8 v7 M906.7,912.3 h2.6" stroke="#111" stroke-width="1" fill="none"/>
<text x="905.5" y="907.8" class="num" text-anchor="end">10</text>
<text x="934.0" y="917.1" class="pn">PB4(ADCB4/ACB4/TMS)</text>
<line x1="1638.6" y1="912.3" x2="1670.1" y2="912.3" stroke="#000" stroke-width="2.6" stroke-linecap="butt"/>
<path d="M1638.6,912.3 L1626.6,908.5 L1626.6,916.1 Z M1626.6,908.5 L1614.6,912.3 L1626.6,916.1 Z" fill="none" stroke="#222" stroke-width="0.9"/>
<path d="M1625.3,908.8 v7 M1627.9,908.8 v7 M1625.3,912.3 h2.6" stroke="#111" stroke-width="1" fill="none"/>
<text x="1631.0" y="907.8" class="num">39</text>
<text x="1603.5" y="917.1" class="pn" text-anchor="end">(OC0D/TXD0)PE3</text>
<line x1="864.5" y1="930.6" x2="896.0" y2="930.6" stroke="#000" stroke-width="2.6" stroke-linecap="butt"/>
<path d="M896.0,930.6 L908.0,926.8 L908.0,934.4 Z M908.0,926.8 L920.0,930.6 L908.0,934.4 Z" fill="none" stroke="#222" stroke-width="0.9"/>
<path d="M906.7,927.1 v7 M909.3,927.1 v7 M906.7,930.6 h2.6" stroke="#111" stroke-width="1" fill="none"/>
<text x="905.5" y="926.1" class="num" text-anchor="end">11</text>
<text x="934.0" y="935.4" class="pn">PB5(ADCB5/ACB5/TDI)</text>
<line x1="1638.6" y1="930.6" x2="1670.1" y2="930.6" stroke="#000" stroke-width="2.6" stroke-linecap="butt"/>
<path d="M1638.6,930.6 L1626.6,926.8 L1626.6,934.4 Z M1626.6,926.8 L1614.6,930.6 L1626.6,934.4 Z" fill="none" stroke="#222" stroke-width="0.9"/>
<path d="M1625.3,927.1 v7 M1627.9,927.1 v7 M1625.3,930.6 h2.6" stroke="#111" stroke-width="1" fill="none"/>
<text x="1631.0" y="926.1" class="num">38</text>
<text x="1603.5" y="935.4" class="pn" text-anchor="end">(OC0C/RXD0)PE2</text>
<line x1="864.5" y1="948.9" x2="896.0" y2="948.9" stroke="#000" stroke-width="2.6" stroke-linecap="butt"/>
<path d="M896.0,948.9 L908.0,945.1 L908.0,952.7 Z M908.0,945.1 L920.0,948.9 L908.0,952.7 Z" fill="none" stroke="#222" stroke-width="0.9"/>
<path d="M906.7,945.4 v7 M909.3,945.4 v7 M906.7,948.9 h2.6" stroke="#111" stroke-width="1" fill="none"/>
<text x="905.5" y="944.4" class="num" text-anchor="end">12</text>
<text x="934.0" y="953.7" class="pn">PB6(ADCB6/ACB6/TCK)</text>
<line x1="1638.6" y1="948.9" x2="1670.1" y2="948.9" stroke="#000" stroke-width="2.6" stroke-linecap="butt"/>
<path d="M1638.6,948.9 L1626.6,945.1 L1626.6,952.7 Z M1626.6,945.1 L1614.6,948.9 L1626.6,952.7 Z" fill="none" stroke="#222" stroke-width="0.9"/>
<path d="M1625.3,945.4 v7 M1627.9,945.4 v7 M1625.3,948.9 h2.6" stroke="#111" stroke-width="1" fill="none"/>
<text x="1631.0" y="944.4" class="num">37</text>
<text x="1603.5" y="953.7" class="pn" text-anchor="end">(OC0B/XCK0/SCL)PE1</text>
<line x1="864.5" y1="967.2" x2="896.0" y2="967.2" stroke="#000" stroke-width="2.6" stroke-linecap="butt"/>
<path d="M896.0,967.2 L908.0,963.4 L908.0,971.0 Z M908.0,963.4 L920.0,967.2 L908.0,971.0 Z" fill="none" stroke="#222" stroke-width="0.9"/>
<path d="M906.7,963.7 v7 M909.3,963.7 v7 M906.7,967.2 h2.6" stroke="#111" stroke-width="1" fill="none"/>
<text x="905.5" y="962.7" class="num" text-anchor="end">13</text>
<text x="934.0" y="972.0" class="pn">PB7(ADCB7/ACB7/TDO)</text>
<line x1="1638.6" y1="967.2" x2="1670.1" y2="967.2" stroke="#000" stroke-width="2.6" stroke-linecap="butt"/>
<path d="M1638.6,967.2 L1626.6,963.4 L1626.6,971.0 Z M1626.6,963.4 L1614.6,967.2 L1626.6,971.0 Z" fill="none" stroke="#222" stroke-width="0.9"/>
<path d="M1625.3,963.7 v7 M1627.9,963.7 v7 M1625.3,967.2 h2.6" stroke="#111" stroke-width="1" fill="none"/>
<text x="1631.0" y="962.7" class="num">36</text>
<text x="1603.5" y="972.0" class="pn" text-anchor="end">(OC0A/SDA)PE0</text>
<line x1="864.5" y1="985.4" x2="920.0" y2="985.4" stroke="#000" stroke-width="2.6" stroke-linecap="butt"/>
<text x="905.5" y="980.9" class="num" text-anchor="end">14</text>
<text x="934.0" y="990.2" class="pn">GND</text>
<line x1="1614.6" y1="985.4" x2="1670.1" y2="985.4" stroke="#000" stroke-width="2.6" stroke-linecap="butt"/>
<text x="1631.0" y="980.9" class="num">35</text>
<text x="1603.5" y="990.2" class="pn" text-anchor="end">VCC</text>
<line x1="864.5" y1="1003.7" x2="920.0" y2="1003.7" stroke="#000" stroke-width="2.6" stroke-linecap="butt"/>
<text x="905.5" y="999.2" class="num" text-anchor="end">15</text>
<text x="934.0" y="1008.5" class="pn">VCC</text>
<line x1="1614.6" y1="1003.7" x2="1670.1" y2="1003.7" stroke="#000" stroke-width="2.6" stroke-linecap="butt"/>
<text x="1631.0" y="999.2" class="num">34</text>
<text x="1603.5" y="1008.5" class="pn" text-anchor="end">GND</text>
<line x1="864.5" y1="1022.0" x2="896.0" y2="1022.0" stroke="#000" stroke-width="2.6" stroke-linecap="butt"/>
<path d="M896.0,1022.0 L908.0,1018.2 L908.0,1025.8 Z M908.0,1018.2 L920.0,1022.0 L908.0,1025.8 Z" fill="none" stroke="#222" stroke-width="0.9"/>
<path d="M906.7,1018.5 v7 M909.3,1018.5 v7 M906.7,1022.0 h2.6" stroke="#111" stroke-width="1" fill="none"/>
<text x="905.5" y="1017.5" class="num" text-anchor="end">16</text>
<text x="934.0" y="1026.8" class="pn">PC0(SDA/OC0A/OC0ALS)</text>
<line x1="1638.6" y1="1022.0" x2="1670.1" y2="1022.0" stroke="#000" stroke-width="2.6" stroke-linecap="butt"/>
<path d="M1638.6,1022.0 L1626.6,1018.2 L1626.6,1025.8 Z M1626.6,1018.2 L1614.6,1022.0 L1626.6,1025.8 Z" fill="none" stroke="#222" stroke-width="0.9"/>
<path d="M1625.3,1018.5 v7 M1627.9,1018.5 v7 M1625.3,1022.0 h2.6" stroke="#111" stroke-width="1" fill="none"/>
<text x="1631.0" y="1017.5" class="num">33</text>
<text x="1603.5" y="1026.8" class="pn" text-anchor="end">(D+/TXD1/SCK)PD7</text>
<line x1="1158.0" y1="509.7" x2="1158.0" y2="541.2" stroke="#000" stroke-width="2.6" stroke-linecap="butt"/>
<path d="M1158.0,541.2 L1154.2,553.2 L1161.8,553.2 Z M1154.2,553.2 L1158.0,565.2 L1161.8,553.2 Z" fill="none" stroke="#222" stroke-width="0.9"/>
<path d="M1154.5,551.9 h7 M1154.5,554.5 h7 M1158.0,551.9 v2.6" stroke="#111" stroke-width="1" fill="none"/>
<text x="1153.0" y="549.5" class="num" transform="rotate(-90 1153.0 549.5)">64</text>
<text x="1162.8" y="580.0" class="pn" text-anchor="end" transform="rotate(-90 1162.8 580.0)">(ACA2/ADCA2)PA2</text>
<line x1="1158.0" y1="1247.0" x2="1158.0" y2="1278.5" stroke="#000" stroke-width="2.6" stroke-linecap="butt"/>
<path d="M1158.0,1247.0 L1154.2,1235.0 L1161.8,1235.0 Z M1154.2,1235.0 L1158.0,1223.0 L1161.8,1235.0 Z" fill="none" stroke="#222" stroke-width="0.9"/>
<path d="M1154.5,1233.7 h7 M1154.5,1236.3 h7 M1158.0,1233.7 v2.6" stroke="#111" stroke-width="1" fill="none"/>
<text x="1153.0" y="1256.0" class="num" transform="rotate(-90 1153.0 1256.0)">17</text>
<text x="1162.8" y="1209.0" class="pn" transform="rotate(-90 1162.8 1209.0)">PC1(SCL/XCK0/OC0B/OC0AHS)</text>
<line x1="1176.3" y1="509.7" x2="1176.3" y2="541.2" stroke="#000" stroke-width="2.6" stroke-linecap="butt"/>
<path d="M1176.3,541.2 L1172.5,553.2 L1180.1,553.2 Z M1172.5,553.2 L1176.3,565.2 L1180.1,553.2 Z" fill="none" stroke="#222" stroke-width="0.9"/>
<path d="M1172.8,551.9 h7 M1172.8,554.5 h7 M1176.3,551.9 v2.6" stroke="#111" stroke-width="1" fill="none"/>
<text x="1171.3" y="549.5" class="num" transform="rotate(-90 1171.3 549.5)">63</text>
<text x="1181.1" y="580.0" class="pn" text-anchor="end" transform="rotate(-90 1181.1 580.0)">(ACA1/ADCA1)PA1</text>
<line x1="1176.3" y1="1247.0" x2="1176.3" y2="1278.5" stroke="#000" stroke-width="2.6" stroke-linecap="butt"/>
<path d="M1176.3,1247.0 L1172.5,1235.0 L1180.1,1235.0 Z M1172.5,1235.0 L1176.3,1223.0 L1180.1,1235.0 Z" fill="none" stroke="#222" stroke-width="0.9"/>
<path d="M1172.8,1233.7 h7 M1172.8,1236.3 h7 M1176.3,1233.7 v2.6" stroke="#111" stroke-width="1" fill="none"/>
<text x="1171.3" y="1256.0" class="num" transform="rotate(-90 1171.3 1256.0)">18</text>
<text x="1181.1" y="1209.0" class="pn" transform="rotate(-90 1181.1 1209.0)">PC2(RXD0/OC0C/OC0BLS)</text>
<line x1="1194.6" y1="509.7" x2="1194.6" y2="541.2" stroke="#000" stroke-width="2.6" stroke-linecap="butt"/>
<path d="M1194.6,541.2 L1190.8,553.2 L1198.4,553.2 Z M1190.8,553.2 L1194.6,565.2 L1198.4,553.2 Z" fill="none" stroke="#222" stroke-width="0.9"/>
<path d="M1191.1,551.9 h7 M1191.1,554.5 h7 M1194.6,551.9 v2.6" stroke="#111" stroke-width="1" fill="none"/>
<text x="1189.6" y="549.5" class="num" transform="rotate(-90 1189.6 549.5)">62</text>
<text x="1199.4" y="580.0" class="pn" text-anchor="end" transform="rotate(-90 1199.4 580.0)">(AREFA/ACA0/ADCA0)PA0</text>
<line x1="1194.6" y1="1247.0" x2="1194.6" y2="1278.5" stroke="#000" stroke-width="2.6" stroke-linecap="butt"/>
<path d="M1194.6,1247.0 L1190.8,1235.0 L1198.4,1235.0 Z M1190.8,1235.0 L1194.6,1223.0 L1198.4,1235.0 Z" fill="none" stroke="#222" stroke-width="0.9"/>
<path d="M1191.1,1233.7 h7 M1191.1,1236.3 h7 M1194.6,1233.7 v2.6" stroke="#111" stroke-width="1" fill="none"/>
<text x="1189.6" y="1256.0" class="num" transform="rotate(-90 1189.6 1256.0)">19</text>
<text x="1199.4" y="1209.0" class="pn" transform="rotate(-90 1199.4 1209.0)">PC3(TXD0/OC0D/OC0BHS)</text>
<line x1="1213.0" y1="509.7" x2="1213.0" y2="565.2" stroke="#000" stroke-width="2.6" stroke-linecap="butt"/>
<text x="1208.0" y="549.5" class="num" transform="rotate(-90 1208.0 549.5)">61</text>
<text x="1217.8" y="580.0" class="pn" text-anchor="end" transform="rotate(-90 1217.8 580.0)">AVCC</text>
<line x1="1213.0" y1="1247.0" x2="1213.0" y2="1278.5" stroke="#000" stroke-width="2.6" stroke-linecap="butt"/>
<path d="M1213.0,1247.0 L1209.2,1235.0 L1216.8,1235.0 Z M1209.2,1235.0 L1213.0,1223.0 L1216.8,1235.0 Z" fill="none" stroke="#222" stroke-width="0.9"/>
<path d="M1209.5,1233.7 h7 M1209.5,1236.3 h7 M1213.0,1233.7 v2.6" stroke="#111" stroke-width="1" fill="none"/>
<text x="1208.0" y="1256.0" class="num" transform="rotate(-90 1208.0 1256.0)">20</text>
<text x="1217.8" y="1209.0" class="pn" transform="rotate(-90 1217.8 1209.0)">PC4(SS/OC1A/OC0CLS)</text>
<line x1="1231.3" y1="509.7" x2="1231.3" y2="565.2" stroke="#000" stroke-width="2.6" stroke-linecap="butt"/>
<text x="1226.3" y="549.5" class="num" transform="rotate(-90 1226.3 549.5)">60</text>
<text x="1236.1" y="580.0" class="pn" text-anchor="end" transform="rotate(-90 1236.1 580.0)">GND</text>
<line x1="1231.3" y1="1247.0" x2="1231.3" y2="1278.5" stroke="#000" stroke-width="2.6" stroke-linecap="butt"/>
<path d="M1231.3,1247.0 L1227.5,1235.0 L1235.1,1235.0 Z M1227.5,1235.0 L1231.3,1223.0 L1235.1,1235.0 Z" fill="none" stroke="#222" stroke-width="0.9"/>
<path d="M1227.8,1233.7 h7 M1227.8,1236.3 h7 M1231.3,1233.7 v2.6" stroke="#111" stroke-width="1" fill="none"/>
<text x="1226.3" y="1256.0" class="num" transform="rotate(-90 1226.3 1256.0)">21</text>
<text x="1236.1" y="1209.0" class="pn" transform="rotate(-90 1236.1 1209.0)">PC5(XCK1/MOSI/OC1B/OC0CHS)</text>
<line x1="1249.6" y1="509.7" x2="1249.6" y2="541.2" stroke="#000" stroke-width="2.6" stroke-linecap="butt"/>
<path d="M1249.6,541.2 L1245.8,553.2 L1253.4,553.2 Z M1245.8,553.2 L1249.6,565.2 L1253.4,553.2 Z" fill="none" stroke="#222" stroke-width="0.9"/>
<path d="M1246.1,551.9 h7 M1246.1,554.5 h7 M1249.6,551.9 v2.6" stroke="#111" stroke-width="1" fill="none"/>
<text x="1244.6" y="549.5" class="num" transform="rotate(-90 1244.6 549.5)">59</text>
<text x="1254.4" y="580.0" class="pn" text-anchor="end" transform="rotate(-90 1254.4 580.0)">(XTAL1)PR1</text>
<line x1="1249.6" y1="1247.0" x2="1249.6" y2="1278.5" stroke="#000" stroke-width="2.6" stroke-linecap="butt"/>
<path d="M1249.6,1247.0 L1245.8,1235.0 L1253.4,1235.0 Z M1245.8,1235.0 L1249.6,1223.0 L1253.4,1235.0 Z" fill="none" stroke="#222" stroke-width="0.9"/>
<path d="M1246.1,1233.7 h7 M1246.1,1236.3 h7 M1249.6,1233.7 v2.6" stroke="#111" stroke-width="1" fill="none"/>
<text x="1244.6" y="1256.0" class="num" transform="rotate(-90 1244.6 1256.0)">22</text>
<text x="1254.4" y="1209.0" class="pn" transform="rotate(-90 1254.4 1209.0)">PC6(RXD1/MISO/OC0DLS)</text>
<line x1="1267.9" y1="509.7" x2="1267.9" y2="541.2" stroke="#000" stroke-width="2.6" stroke-linecap="butt"/>
<path d="M1267.9,541.2 L1264.1,553.2 L1271.7,553.2 Z M1264.1,553.2 L1267.9,565.2 L1271.7,553.2 Z" fill="none" stroke="#222" stroke-width="0.9"/>
<path d="M1264.4,551.9 h7 M1264.4,554.5 h7 M1267.9,551.9 v2.6" stroke="#111" stroke-width="1" fill="none"/>
<text x="1262.9" y="549.5" class="num" transform="rotate(-90 1262.9 549.5)">58</text>
<text x="1272.7" y="580.0" class="pn" text-anchor="end" transform="rotate(-90 1272.7 580.0)">(XTAL2)PR0</text>
<line x1="1267.9" y1="1247.0" x2="1267.9" y2="1278.5" stroke="#000" stroke-width="2.6" stroke-linecap="butt"/>
<path d="M1267.9,1247.0 L1264.1,1235.0 L1271.7,1235.0 Z M1264.1,1235.0 L1267.9,1223.0 L1271.7,1235.0 Z" fill="none" stroke="#222" stroke-width="0.9"/>
<path d="M1264.4,1233.7 h7 M1264.4,1236.3 h7 M1267.9,1233.7 v2.6" stroke="#111" stroke-width="1" fill="none"/>
<text x="1262.9" y="1256.0" class="num" transform="rotate(-90 1262.9 1256.0)">23</text>
<text x="1272.7" y="1209.0" class="pn" transform="rotate(-90 1272.7 1209.0)">PC7(TXD1/SCK/OC0DHS)</text>
<line x1="1286.2" y1="509.7" x2="1286.2" y2="541.2" stroke="#000" stroke-width="2.6" stroke-linecap="butt"/>
<path d="M1286.2,541.2 L1282.4,553.2 L1290.0,553.2 Z M1282.4,553.2 L1286.2,565.2 L1290.0,553.2 Z" fill="none" stroke="#222" stroke-width="0.9"/>
<path d="M1282.7,551.9 h7 M1282.7,554.5 h7 M1286.2,551.9 v2.6" stroke="#111" stroke-width="1" fill="none"/>
<text x="1281.2" y="549.5" class="num" transform="rotate(-90 1281.2 549.5)">57</text>
<text x="1291.0" y="580.0" class="pn" text-anchor="end" transform="rotate(-90 1291.0 580.0)">PDI_CLK/RESET</text>
<line x1="1286.2" y1="1223.0" x2="1286.2" y2="1278.5" stroke="#000" stroke-width="2.6" stroke-linecap="butt"/>
<text x="1281.2" y="1256.0" class="num" transform="rotate(-90 1281.2 1256.0)">24</text>
<text x="1291.0" y="1209.0" class="pn" transform="rotate(-90 1291.0 1209.0)">GND</text>
<line x1="1304.6" y1="509.7" x2="1304.6" y2="541.2" stroke="#000" stroke-width="2.6" stroke-linecap="butt"/>
<path d="M1304.6,541.2 L1300.8,553.2 L1308.4,553.2 Z M1300.8,553.2 L1304.6,565.2 L1308.4,553.2 Z" fill="none" stroke="#222" stroke-width="0.9"/>
<path d="M1301.1,551.9 h7 M1301.1,554.5 h7 M1304.6,551.9 v2.6" stroke="#111" stroke-width="1" fill="none"/>
<text x="1299.6" y="549.5" class="num" transform="rotate(-90 1299.6 549.5)">56</text>
<text x="1309.4" y="580.0" class="pn" text-anchor="end" transform="rotate(-90 1309.4 580.0)">PDI_DATA</text>
<line x1="1304.6" y1="1223.0" x2="1304.6" y2="1278.5" stroke="#000" stroke-width="2.6" stroke-linecap="butt"/>
<text x="1299.6" y="1256.0" class="num" transform="rotate(-90 1299.6 1256.0)">25</text>
<text x="1309.4" y="1209.0" class="pn" transform="rotate(-90 1309.4 1209.0)">VCC</text>
<line x1="1322.9" y1="509.7" x2="1322.9" y2="541.2" stroke="#000" stroke-width="2.6" stroke-linecap="butt"/>
<path d="M1322.9,541.2 L1319.1,553.2 L1326.7,553.2 Z M1319.1,553.2 L1322.9,565.2 L1326.7,553.2 Z" fill="none" stroke="#222" stroke-width="0.9"/>
<path d="M1319.4,551.9 h7 M1319.4,554.5 h7 M1322.9,551.9 v2.6" stroke="#111" stroke-width="1" fill="none"/>
<text x="1317.9" y="549.5" class="num" transform="rotate(-90 1317.9 549.5)">55</text>
<text x="1327.7" y="580.0" class="pn" text-anchor="end" transform="rotate(-90 1327.7 580.0)">PF7</text>
<line x1="1322.9" y1="1247.0" x2="1322.9" y2="1278.5" stroke="#000" stroke-width="2.6" stroke-linecap="butt"/>
<path d="M1322.9,1247.0 L1319.1,1235.0 L1326.7,1235.0 Z M1319.1,1235.0 L1322.9,1223.0 L1326.7,1235.0 Z" fill="none" stroke="#222" stroke-width="0.9"/>
<path d="M1319.4,1233.7 h7 M1319.4,1236.3 h7 M1322.9,1233.7 v2.6" stroke="#111" stroke-width="1" fill="none"/>
<text x="1317.9" y="1256.0" class="num" transform="rotate(-90 1317.9 1256.0)">26</text>
<text x="1327.7" y="1209.0" class="pn" transform="rotate(-90 1327.7 1209.0)">PD0(OC0A)</text>
<line x1="1341.2" y1="509.7" x2="1341.2" y2="541.2" stroke="#000" stroke-width="2.6" stroke-linecap="butt"/>
<path d="M1341.2,541.2 L1337.4,553.2 L1345.0,553.2 Z M1337.4,553.2 L1341.2,565.2 L1345.0,553.2 Z" fill="none" stroke="#222" stroke-width="0.9"/>
<path d="M1337.7,551.9 h7 M1337.7,554.5 h7 M1341.2,551.9 v2.6" stroke="#111" stroke-width="1" fill="none"/>
<text x="1336.2" y="549.5" class="num" transform="rotate(-90 1336.2 549.5)">54</text>
<text x="1346.0" y="580.0" class="pn" text-anchor="end" transform="rotate(-90 1346.0 580.0)">PF6</text>
<line x1="1341.2" y1="1247.0" x2="1341.2" y2="1278.5" stroke="#000" stroke-width="2.6" stroke-linecap="butt"/>
<path d="M1341.2,1247.0 L1337.4,1235.0 L1345.0,1235.0 Z M1337.4,1235.0 L1341.2,1223.0 L1345.0,1235.0 Z" fill="none" stroke="#222" stroke-width="0.9"/>
<path d="M1337.7,1233.7 h7 M1337.7,1236.3 h7 M1341.2,1233.7 v2.6" stroke="#111" stroke-width="1" fill="none"/>
<text x="1336.2" y="1256.0" class="num" transform="rotate(-90 1336.2 1256.0)">27</text>
<text x="1346.0" y="1209.0" class="pn" transform="rotate(-90 1346.0 1209.0)">PD1(XCK0/OC0B)</text>
<line x1="1359.5" y1="509.7" x2="1359.5" y2="565.2" stroke="#000" stroke-width="2.6" stroke-linecap="butt"/>
<text x="1354.5" y="549.5" class="num" transform="rotate(-90 1354.5 549.5)">53</text>
<text x="1364.3" y="580.0" class="pn" text-anchor="end" transform="rotate(-90 1364.3 580.0)">VCC</text>
<line x1="1359.5" y1="1247.0" x2="1359.5" y2="1278.5" stroke="#000" stroke-width="2.6" stroke-linecap="butt"/>
<path d="M1359.5,1247.0 L1355.7,1235.0 L1363.3,1235.0 Z M1355.7,1235.0 L1359.5,1223.0 L1363.3,1235.0 Z" fill="none" stroke="#222" stroke-width="0.9"/>
<path d="M1356.0,1233.7 h7 M1356.0,1236.3 h7 M1359.5,1233.7 v2.6" stroke="#111" stroke-width="1" fill="none"/>
<text x="1354.5" y="1256.0" class="num" transform="rotate(-90 1354.5 1256.0)">28</text>
<text x="1364.3" y="1209.0" class="pn" transform="rotate(-90 1364.3 1209.0)">PD2(RXD0/OC0C)</text>
<line x1="1377.8" y1="509.7" x2="1377.8" y2="565.2" stroke="#000" stroke-width="2.6" stroke-linecap="butt"/>
<text x="1372.8" y="549.5" class="num" transform="rotate(-90 1372.8 549.5)">52</text>
<text x="1382.6" y="580.0" class="pn" text-anchor="end" transform="rotate(-90 1382.6 580.0)">GND</text>
<line x1="1377.8" y1="1247.0" x2="1377.8" y2="1278.5" stroke="#000" stroke-width="2.6" stroke-linecap="butt"/>
<path d="M1377.8,1247.0 L1374.0,1235.0 L1381.6,1235.0 Z M1374.0,1235.0 L1377.8,1223.0 L1381.6,1235.0 Z" fill="none" stroke="#222" stroke-width="0.9"/>
<path d="M1374.3,1233.7 h7 M1374.3,1236.3 h7 M1377.8,1233.7 v2.6" stroke="#111" stroke-width="1" fill="none"/>
<text x="1372.8" y="1256.0" class="num" transform="rotate(-90 1372.8 1256.0)">29</text>
<text x="1382.6" y="1209.0" class="pn" transform="rotate(-90 1382.6 1209.0)">PD3(TXD0/OC0D)</text>
<line x1="1396.2" y1="509.7" x2="1396.2" y2="565.2" stroke="#000" stroke-width="2.6" stroke-linecap="butt"/>
<text x="1391.2" y="549.5" class="num" transform="rotate(-90 1391.2 549.5)">51</text>
<text x="1401.0" y="580.0" class="pn" text-anchor="end" transform="rotate(-90 1401.0 580.0)">VBAT</text>
<line x1="1396.2" y1="1247.0" x2="1396.2" y2="1278.5" stroke="#000" stroke-width="2.6" stroke-linecap="butt"/>
<path d="M1396.2,1247.0 L1392.4,1235.0 L1400.0,1235.0 Z M1392.4,1235.0 L1396.2,1223.0 L1400.0,1235.0 Z" fill="none" stroke="#222" stroke-width="0.9"/>
<path d="M1392.7,1233.7 h7 M1392.7,1236.3 h7 M1396.2,1233.7 v2.6" stroke="#111" stroke-width="1" fill="none"/>
<text x="1391.2" y="1256.0" class="num" transform="rotate(-90 1391.2 1256.0)">30</text>
<text x="1401.0" y="1209.0" class="pn" transform="rotate(-90 1401.0 1209.0)">PD4(SS/OC1A)</text>
<line x1="1414.5" y1="509.7" x2="1414.5" y2="541.2" stroke="#000" stroke-width="2.6" stroke-linecap="butt"/>
<path d="M1414.5,541.2 L1410.7,553.2 L1418.3,553.2 Z M1410.7,553.2 L1414.5,565.2 L1418.3,553.2 Z" fill="none" stroke="#222" stroke-width="0.9"/>
<path d="M1411.0,551.9 h7 M1411.0,554.5 h7 M1414.5,551.9 v2.6" stroke="#111" stroke-width="1" fill="none"/>
<text x="1409.5" y="549.5" class="num" transform="rotate(-90 1409.5 549.5)">50</text>
<text x="1419.3" y="580.0" class="pn" text-anchor="end" transform="rotate(-90 1419.3 580.0)">(OC0A)PF4</text>
<line x1="1414.5" y1="1247.0" x2="1414.5" y2="1278.5" stroke="#000" stroke-width="2.6" stroke-linecap="butt"/>
<path d="M1414.5,1247.0 L1410.7,1235.0 L1418.3,1235.0 Z M1410.7,1235.0 L1414.5,1223.0 L1418.3,1235.0 Z" fill="none" stroke="#222" stroke-width="0.9"/>
<path d="M1411.0,1233.7 h7 M1411.0,1236.3 h7 M1414.5,1233.7 v2.6" stroke="#111" stroke-width="1" fill="none"/>
<text x="1409.5" y="1256.0" class="num" transform="rotate(-90 1409.5 1256.0)">31</text>
<text x="1419.3" y="1209.0" class="pn" transform="rotate(-90 1419.3 1209.0)">PD5(MOSI/XCK1/OC1B)</text>
<line x1="1432.8" y1="509.7" x2="1432.8" y2="541.2" stroke="#000" stroke-width="2.6" stroke-linecap="butt"/>
<path d="M1432.8,541.2 L1429.0,553.2 L1436.6,553.2 Z M1429.0,553.2 L1432.8,565.2 L1436.6,553.2 Z" fill="none" stroke="#222" stroke-width="0.9"/>
<path d="M1429.3,551.9 h7 M1429.3,554.5 h7 M1432.8,551.9 v2.6" stroke="#111" stroke-width="1" fill="none"/>
<text x="1427.8" y="549.5" class="num" transform="rotate(-90 1427.8 549.5)">49</text>
<text x="1437.6" y="580.0" class="pn" text-anchor="end" transform="rotate(-90 1437.6 580.0)">(OC0D/TXD0)PF3</text>
<line x1="1432.8" y1="1247.0" x2="1432.8" y2="1278.5" stroke="#000" stroke-width="2.6" stroke-linecap="butt"/>
<path d="M1432.8,1247.0 L1429.0,1235.0 L1436.6,1235.0 Z M1429.0,1235.0 L1432.8,1223.0 L1436.6,1235.0 Z" fill="none" stroke="#222" stroke-width="0.9"/>
<path d="M1429.3,1233.7 h7 M1429.3,1236.3 h7 M1432.8,1233.7 v2.6" stroke="#111" stroke-width="1" fill="none"/>
<text x="1427.8" y="1256.0" class="num" transform="rotate(-90 1427.8 1256.0)">32</text>
<text x="1437.6" y="1209.0" class="pn" transform="rotate(-90 1437.6 1209.0)">PD6(MISO/RXD1/D-)</text>
<line x1="1207.2" y1="1171.0" x2="1207.2" y2="1152.0" stroke="#000" stroke-width="1.2"/>
<line x1="1390.4" y1="1171.0" x2="1390.4" y2="1152.0" stroke="#000" stroke-width="1.2"/>
<line x1="1279.7" y1="580.0" x2="1279.7" y2="627.0" stroke="#000" stroke-width="1.2"/>
<rect x="2082" y="1661" width="700" height="300" fill="#FFFCF6" stroke="none"/>
<line x1="2082.0" y1="1661.0" x2="2757.0" y2="1661.0" stroke="#000" stroke-width="2.2" stroke-linecap="butt"/>
<line x1="2082.0" y1="1698.5" x2="2502.5" y2="1698.5" stroke="#000" stroke-width="2.2" stroke-linecap="butt"/>
<line x1="2082.0" y1="1735.0" x2="2502.5" y2="1735.0" stroke="#000" stroke-width="2.2" stroke-linecap="butt"/>
<line x1="2082.0" y1="1771.5" x2="2502.5" y2="1771.5" stroke="#000" stroke-width="2.2" stroke-linecap="butt"/>
<line x1="2082.0" y1="1808.0" x2="2757.0" y2="1808.0" stroke="#000" stroke-width="2.2" stroke-linecap="butt"/>
<line x1="2082.0" y1="1844.5" x2="2757.0" y2="1844.5" stroke="#000" stroke-width="2.2" stroke-linecap="butt"/>
<line x1="2082.0" y1="1880.5" x2="2757.0" y2="1880.5" stroke="#000" stroke-width="2.2" stroke-linecap="butt"/>
<line x1="2082.0" y1="1917.0" x2="2757.0" y2="1917.0" stroke="#000" stroke-width="2.2" stroke-linecap="butt"/>
<line x1="2082.0" y1="1661.0" x2="2082.0" y2="1939.0" stroke="#000" stroke-width="2.2" stroke-linecap="butt"/>
<line x1="2247.0" y1="1661.0" x2="2247.0" y2="1880.5" stroke="#000" stroke-width="2.2" stroke-linecap="butt"/>
<line x1="2502.5" y1="1661.0" x2="2502.5" y2="1880.5" stroke="#000" stroke-width="2.2" stroke-linecap="butt"/>
<line x1="2374.5" y1="1808.0" x2="2374.5" y2="1844.5" stroke="#000" stroke-width="2.2" stroke-linecap="butt"/>
<line x1="2703.0" y1="1808.0" x2="2703.0" y2="1844.5" stroke="#000" stroke-width="2.2" stroke-linecap="butt"/>
<line x1="2593.0" y1="1844.5" x2="2593.0" y2="1880.5" stroke="#000" stroke-width="2.2" stroke-linecap="butt"/>
<text x="2091.0" y="1685.0" class="tb">ATMEL Norway</text>
<text x="2256.5" y="1685.0" class="tb">*</text>
<text x="2091.0" y="1722.0" class="tb">Vestre Rosten 79</text>
<text x="2256.5" y="1722.0" class="tb">*</text>
<text x="2091.0" y="1758.5" class="tb">N-7075 TILLER</text>
<text x="2256.5" y="1758.5" class="tb">*</text>
<text x="2091.0" y="1795.0" class="tb">NORWAY</text>
<text x="2091.0" y="1831.0" class="tb">Date:</text>
<text x="2256.5" y="1831.0" class="tb">07.06.2011</text>
<text x="2393.0" y="1831.0" class="tb">15:02:08</text>
<text x="2512.0" y="1831.0" class="tb">PAGE:</text>
<text x="2595.0" y="1831.0" class="tb">3</text>
<text x="2623.0" y="1831.0" class="tb">of</text>
<text x="2668.0" y="1831.0" class="tb">7</text>
<text x="2091.0" y="1868.0" class="tb">Document number:</text>
<text x="2256.5" y="1868.0" class="tb">3</text>
<text x="2512.0" y="1868.0" class="tb">Revision:</text>
<text x="2604.0" y="1868.0" class="tb">2</text>
<text x="2091.0" y="1904.0" class="tb">TITLE: MCU ATxmega256A3BU</text>
<text x="2091.0" y="1940.0" class="tb">XMEGA-A3BU_XPLAINED_MCU.SchDoc</text>
<rect x="2522" y="1684.8" width="215" height="103" fill="#FFFFFF"/>
<g transform="translate(2500,1660) scale(0.11193)" fill="#000"><polygon points="583,222 2117,222 2117,395 483,395"/><rect x="653" y="395" width="159" height="595"/><polygon points="450,435 607,435 607,982 447,982 447,765 375,900 410,900 410,982 197,982 197,930"/><polygon points="843,435 1300,435 1390,500 1390,990 1250,990 1250,535 1205,515 1205,990 1055,990 1055,510 1000,510 1000,990 843,990"/><polygon points="1440,435 1768,435 1768,598 1555,598 1555,635 1768,635 1768,785 1555,785 1555,815 1768,815 1768,990 1440,990"/><polygon points="1813,435 1973,435 1973,822 2117,822 2117,840 2035,990 1813,990"/><polygon points="197,1022 2025,1022 1955,1142 197,1142"/></g>
</svg></body></html>
